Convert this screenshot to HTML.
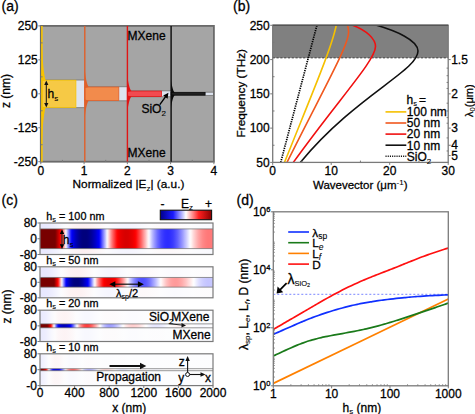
<!DOCTYPE html><html><head><meta charset="utf-8"><style>html,body{margin:0;padding:0;background:#fff;overflow:hidden}svg{display:block}text{font-family:"Liberation Sans",sans-serif;fill:#000;stroke:#000;stroke-width:0.28px}tspan[font-size]{stroke-width:0.1px}</style></head><body>
<svg width="475" height="414" viewBox="0 0 475 414">
<defs>
<linearGradient id="cbar" x1="0" x2="1" y1="0" y2="0"><stop offset="0" stop-color="#00008a"/><stop offset="0.25" stop-color="#1a1aff"/><stop offset="0.5" stop-color="#ffffff"/><stop offset="0.75" stop-color="#ff2020"/><stop offset="1" stop-color="#8a0000"/></linearGradient>
</defs>
<text x="1.50" y="10.60" font-size="14.00" text-anchor="start" >(a)</text>
<rect x="40.8" y="25.9" width="173.10000000000002" height="135.79999999999998" fill="#a5a5a5"/>
<rect x="41.90" y="80.22" width="42.90" height="27.16" fill="#dde3ef"/>
<line x1="41.90" y1="79.92" x2="84.80" y2="79.92" stroke="#858585" stroke-width="1"/>
<line x1="41.90" y1="107.68" x2="84.80" y2="107.68" stroke="#858585" stroke-width="1"/>
<rect x="41.90" y="80.22" width="34.00" height="27.16" fill="#f6c945" stroke="#f7c300" stroke-width="0.8"/>
<path d="M41.90,44.22 C42.47,60.42 43.99,75.90 45.70,80.22 L41.90,81.22 Z" fill="#f7c300"/>
<path d="M41.90,143.38 C42.47,127.18 43.99,111.70 45.70,107.38 L41.90,106.38 Z" fill="#f7c300"/>
<rect x="84.80" y="87.01" width="42.60" height="13.58" fill="#dde3ef"/>
<line x1="84.80" y1="86.71" x2="127.40" y2="86.71" stroke="#858585" stroke-width="1"/>
<line x1="84.80" y1="100.89" x2="127.40" y2="100.89" stroke="#858585" stroke-width="1"/>
<rect x="84.80" y="87.01" width="34.00" height="13.58" fill="#f28b4c" stroke="#e0602a" stroke-width="0.8"/>
<path d="M84.80,69.01 C85.40,77.11 87.00,84.85 88.80,87.01 L84.80,88.01 Z" fill="#e0602a"/>
<path d="M84.80,118.59 C85.40,110.49 87.00,102.75 88.80,100.59 L84.80,99.59 Z" fill="#e0602a"/>
<rect x="127.40" y="91.08" width="43.70" height="5.43" fill="#dde3ef"/>
<line x1="127.40" y1="90.78" x2="171.10" y2="90.78" stroke="#858585" stroke-width="1"/>
<line x1="127.40" y1="96.82" x2="171.10" y2="96.82" stroke="#858585" stroke-width="1"/>
<rect x="127.40" y="91.08" width="34.00" height="5.43" fill="#f24a50" stroke="#e01515" stroke-width="0.8"/>
<path d="M127.40,75.08 C128.00,82.28 129.60,89.16 131.40,91.08 L127.40,92.08 Z" fill="#e01515"/>
<path d="M127.40,112.52 C128.00,105.32 129.60,98.44 131.40,96.52 L127.40,95.52 Z" fill="#e01515"/>
<rect x="171.10" y="92.44" width="42.80" height="2.72" fill="#dde3ef"/>
<line x1="171.10" y1="92.14" x2="213.90" y2="92.14" stroke="#858585" stroke-width="1"/>
<line x1="171.10" y1="95.46" x2="213.90" y2="95.46" stroke="#858585" stroke-width="1"/>
<rect x="171.10" y="92.44" width="34.00" height="2.72" fill="#202020" stroke="#0a0a0a" stroke-width="0.8"/>
<path d="M171.10,79.44 C171.64,85.29 173.08,90.88 174.70,92.44 L171.10,93.44 Z" fill="#0a0a0a"/>
<path d="M171.10,108.16 C171.64,102.31 173.08,96.72 174.70,95.16 L171.10,94.16 Z" fill="#0a0a0a"/>
<rect x="40.8" y="25.9" width="173.10000000000002" height="135.79999999999998" fill="none" stroke="#6a6a6a" stroke-width="1.8"/>
<line x1="41.90" y1="25.90" x2="41.90" y2="161.70" stroke="#f7c300" stroke-width="1.6"/>
<line x1="84.80" y1="25.90" x2="84.80" y2="161.70" stroke="#e0602a" stroke-width="1.4"/>
<line x1="127.40" y1="25.90" x2="127.40" y2="161.70" stroke="#e01515" stroke-width="1.4"/>
<line x1="171.10" y1="25.90" x2="171.10" y2="161.70" stroke="#0a0a0a" stroke-width="1.4"/>
<line x1="38.30" y1="161.70" x2="40.80" y2="161.70" stroke="#7a7a7a" stroke-width="1"/>
<text x="37.80" y="165.90" font-size="12.00" text-anchor="end" >-250</text>
<line x1="38.30" y1="127.75" x2="40.80" y2="127.75" stroke="#7a7a7a" stroke-width="1"/>
<text x="37.80" y="131.95" font-size="12.00" text-anchor="end" >-125</text>
<line x1="38.30" y1="93.80" x2="40.80" y2="93.80" stroke="#7a7a7a" stroke-width="1"/>
<text x="37.80" y="98.00" font-size="12.00" text-anchor="end" >0</text>
<line x1="38.30" y1="59.85" x2="40.80" y2="59.85" stroke="#7a7a7a" stroke-width="1"/>
<text x="37.80" y="64.05" font-size="12.00" text-anchor="end" >125</text>
<line x1="38.30" y1="25.90" x2="40.80" y2="25.90" stroke="#7a7a7a" stroke-width="1"/>
<text x="37.80" y="30.10" font-size="12.00" text-anchor="end" >250</text>
<line x1="40.80" y1="144.72" x2="42.60" y2="144.72" stroke="#7a7a7a" stroke-width="1"/>
<line x1="40.80" y1="110.77" x2="42.60" y2="110.77" stroke="#7a7a7a" stroke-width="1"/>
<line x1="40.80" y1="76.83" x2="42.60" y2="76.83" stroke="#7a7a7a" stroke-width="1"/>
<line x1="40.80" y1="42.88" x2="42.60" y2="42.88" stroke="#7a7a7a" stroke-width="1"/>
<line x1="40.80" y1="161.70" x2="40.80" y2="164.20" stroke="#7a7a7a" stroke-width="1"/>
<text x="40.80" y="174.50" font-size="12.00" text-anchor="middle" >0</text>
<line x1="84.08" y1="161.70" x2="84.08" y2="164.20" stroke="#7a7a7a" stroke-width="1"/>
<text x="84.08" y="174.50" font-size="12.00" text-anchor="middle" >1</text>
<line x1="127.35" y1="161.70" x2="127.35" y2="164.20" stroke="#7a7a7a" stroke-width="1"/>
<text x="127.35" y="174.50" font-size="12.00" text-anchor="middle" >2</text>
<line x1="170.62" y1="161.70" x2="170.62" y2="164.20" stroke="#7a7a7a" stroke-width="1"/>
<text x="170.62" y="174.50" font-size="12.00" text-anchor="middle" >3</text>
<line x1="213.90" y1="161.70" x2="213.90" y2="164.20" stroke="#7a7a7a" stroke-width="1"/>
<text x="213.90" y="174.50" font-size="12.00" text-anchor="middle" >4</text>
<line x1="62.44" y1="161.70" x2="62.44" y2="159.90" stroke="#7a7a7a" stroke-width="1"/>
<line x1="105.71" y1="161.70" x2="105.71" y2="159.90" stroke="#7a7a7a" stroke-width="1"/>
<line x1="148.99" y1="161.70" x2="148.99" y2="159.90" stroke="#7a7a7a" stroke-width="1"/>
<line x1="192.26" y1="161.70" x2="192.26" y2="159.90" stroke="#7a7a7a" stroke-width="1"/>
<text x="72.60" y="188.00" font-size="11.80" text-anchor="start" >Normalized |E<tspan font-size="8" dy="2.5">z</tspan><tspan dy="-2.5">| (a.u.)</tspan></text>
<text x="0" y="0" font-size="12" text-anchor="middle" transform="translate(10.4,91) rotate(-90)">z (nm)</text>
<text x="127.60" y="40.20" font-size="12.00" text-anchor="start" >MXene</text>
<text x="127.60" y="157.10" font-size="12.00" text-anchor="start" >MXene</text>
<line x1="46.3" y1="82.5" x2="46.3" y2="105.5" stroke="#111" stroke-width="1"/>
<path d="M46.3,80.5 L44.2,85 L48.4,85 Z" fill="#111"/><path d="M46.3,107.5 L44.2,103 L48.4,103 Z" fill="#111"/>
<text x="47.60" y="98.20" font-size="12.00" text-anchor="start" >h<tspan font-size="8" dy="2.5">s</tspan></text>
<text x="141.40" y="113.30" font-size="12.00" text-anchor="start" >SiO<tspan font-size="8" dy="3">2</tspan></text>
<line x1="159.8" y1="104.6" x2="165.8" y2="96.4" stroke="#000" stroke-width="1.4"/>
<path d="M168.4,92.8 L163.2,95.6 L167.6,98.8 Z" fill="#000"/>
<text x="233.00" y="10.60" font-size="14.00" text-anchor="start" >(b)</text>
<rect x="272.70" y="25.30" width="175.50" height="32.56" fill="#808080"/>
<line x1="272.70" y1="57.86" x2="448.20" y2="57.86" stroke="#333" stroke-width="0.9" stroke-dasharray="2.2,1.6"/>
<clipPath id="cpb"><rect x="272.70" y="25.30" width="175.50" height="137.10"/></clipPath>
<line x1="280.7" y1="162.4" x2="316.9" y2="25.3" stroke="#000" stroke-width="1.7" stroke-dasharray="1.3,1.0" clip-path="url(#cpb)"/>
<path d="M284.5,162.4 C311.28,95.35 331.76,47.9 336.3,25" fill="none" stroke="#f5c000" stroke-width="1.6" clip-path="url(#cpb)"/>
<path d="M287,162.4 C325.73,84.84 348.6,45.54 348.6,32 C348.6,29.5 348,27 347.6,25" fill="none" stroke="#f0581e" stroke-width="1.6" clip-path="url(#cpb)"/>
<path d="M293.3,162.4 C339.28,98.44 375.5,60.33 375.5,46.5 C375.5,39 367,30.5 352,25" fill="none" stroke="#f01010" stroke-width="1.6" clip-path="url(#cpb)"/>
<path d="M300.3,162.4 C355.87,95.35 418,70.85 418,51 C418,40 395,30.5 375.8,25" fill="none" stroke="#111111" stroke-width="1.6" clip-path="url(#cpb)"/>
<rect x="272.70" y="25.30" width="175.50" height="137.10" fill="none" stroke="#7a7a7a" stroke-width="1.3"/>
<line x1="272.70" y1="25.30" x2="448.20" y2="25.30" stroke="#555" stroke-width="1.4"/>
<line x1="270.20" y1="162.40" x2="272.70" y2="162.40" stroke="#7a7a7a" stroke-width="1"/>
<text x="269.70" y="166.60" font-size="12.00" text-anchor="end" >50</text>
<line x1="270.20" y1="128.12" x2="272.70" y2="128.12" stroke="#7a7a7a" stroke-width="1"/>
<text x="269.70" y="132.32" font-size="12.00" text-anchor="end" >100</text>
<line x1="270.20" y1="93.85" x2="272.70" y2="93.85" stroke="#7a7a7a" stroke-width="1"/>
<text x="269.70" y="98.05" font-size="12.00" text-anchor="end" >150</text>
<line x1="270.20" y1="59.58" x2="272.70" y2="59.58" stroke="#7a7a7a" stroke-width="1"/>
<text x="269.70" y="63.78" font-size="12.00" text-anchor="end" >200</text>
<line x1="270.20" y1="25.30" x2="272.70" y2="25.30" stroke="#7a7a7a" stroke-width="1"/>
<text x="269.70" y="29.50" font-size="12.00" text-anchor="end" >250</text>
<line x1="272.70" y1="145.26" x2="274.50" y2="145.26" stroke="#7a7a7a" stroke-width="1"/>
<line x1="272.70" y1="110.99" x2="274.50" y2="110.99" stroke="#7a7a7a" stroke-width="1"/>
<line x1="272.70" y1="76.71" x2="274.50" y2="76.71" stroke="#7a7a7a" stroke-width="1"/>
<line x1="272.70" y1="42.44" x2="274.50" y2="42.44" stroke="#7a7a7a" stroke-width="1"/>
<line x1="272.70" y1="162.40" x2="272.70" y2="164.90" stroke="#7a7a7a" stroke-width="1"/>
<text x="272.70" y="174.50" font-size="12.00" text-anchor="middle" >0</text>
<line x1="331.20" y1="162.40" x2="331.20" y2="164.90" stroke="#7a7a7a" stroke-width="1"/>
<text x="331.20" y="174.50" font-size="12.00" text-anchor="middle" >10</text>
<line x1="389.70" y1="162.40" x2="389.70" y2="164.90" stroke="#7a7a7a" stroke-width="1"/>
<text x="389.70" y="174.50" font-size="12.00" text-anchor="middle" >20</text>
<line x1="448.20" y1="162.40" x2="448.20" y2="164.90" stroke="#7a7a7a" stroke-width="1"/>
<text x="448.20" y="174.50" font-size="12.00" text-anchor="middle" >30</text>
<line x1="301.95" y1="162.40" x2="301.95" y2="160.60" stroke="#7a7a7a" stroke-width="1"/>
<line x1="360.45" y1="162.40" x2="360.45" y2="160.60" stroke="#7a7a7a" stroke-width="1"/>
<line x1="418.95" y1="162.40" x2="418.95" y2="160.60" stroke="#7a7a7a" stroke-width="1"/>
<line x1="448.20" y1="59.58" x2="450.70" y2="59.58" stroke="#7a7a7a" stroke-width="1"/>
<text x="451.20" y="63.78" font-size="12.00" text-anchor="start" >1.5</text>
<line x1="448.20" y1="93.85" x2="450.70" y2="93.85" stroke="#7a7a7a" stroke-width="1"/>
<text x="451.20" y="98.05" font-size="12.00" text-anchor="start" >2</text>
<line x1="448.20" y1="128.12" x2="450.70" y2="128.12" stroke="#7a7a7a" stroke-width="1"/>
<text x="451.20" y="132.32" font-size="12.00" text-anchor="start" >3</text>
<line x1="448.20" y1="145.26" x2="450.70" y2="145.26" stroke="#7a7a7a" stroke-width="1"/>
<text x="451.20" y="149.46" font-size="12.00" text-anchor="start" >4</text>
<line x1="448.20" y1="155.55" x2="450.70" y2="155.55" stroke="#7a7a7a" stroke-width="1"/>
<text x="451.20" y="159.75" font-size="12.00" text-anchor="start" >5</text>
<line x1="446.60" y1="68.14" x2="448.20" y2="68.14" stroke="#7a7a7a" stroke-width="1"/>
<line x1="446.60" y1="75.70" x2="448.20" y2="75.70" stroke="#7a7a7a" stroke-width="1"/>
<line x1="446.60" y1="82.43" x2="448.20" y2="82.43" stroke="#7a7a7a" stroke-width="1"/>
<line x1="446.60" y1="88.44" x2="448.20" y2="88.44" stroke="#7a7a7a" stroke-width="1"/>
<line x1="446.60" y1="103.20" x2="448.20" y2="103.20" stroke="#7a7a7a" stroke-width="1"/>
<line x1="446.60" y1="110.99" x2="448.20" y2="110.99" stroke="#7a7a7a" stroke-width="1"/>
<line x1="446.60" y1="117.58" x2="448.20" y2="117.58" stroke="#7a7a7a" stroke-width="1"/>
<line x1="446.60" y1="123.23" x2="448.20" y2="123.23" stroke="#7a7a7a" stroke-width="1"/>
<line x1="446.60" y1="137.92" x2="448.20" y2="137.92" stroke="#7a7a7a" stroke-width="1"/>
<line x1="446.60" y1="150.97" x2="448.20" y2="150.97" stroke="#7a7a7a" stroke-width="1"/>
<text x="0" y="0" font-size="11.8" text-anchor="middle" transform="translate(245.2,93.2) rotate(-90)">Frequency (THz)</text>
<text x="313.00" y="189.00" font-size="11.50" text-anchor="start" >Wavevector (μm<tspan font-size="8" dy="-4">-1</tspan><tspan dy="4">)</tspan></text>
<text x="0" y="0" font-size="11" text-anchor="middle" transform="translate(472.5,100.7) rotate(-90)">λ<tspan font-size="7.5" dy="2.5">0</tspan><tspan dy="-2.5">(μm)</tspan></text>
<text x="406.50" y="103.60" font-size="12.00" text-anchor="start" >h<tspan font-size="7.5" dy="2.5">s</tspan><tspan dy="-2.5" dx="-1.2"> =</tspan></text>
<line x1="385.5" y1="111.90" x2="406.3" y2="111.90" stroke="#f5c000" stroke-width="1.6"/>
<text x="406.80" y="116.20" font-size="12.00" text-anchor="start" >100 nm</text>
<line x1="385.5" y1="123.00" x2="406.3" y2="123.00" stroke="#f0581e" stroke-width="1.6"/>
<text x="406.80" y="127.30" font-size="12.00" text-anchor="start" >50 nm</text>
<line x1="385.5" y1="134.10" x2="406.3" y2="134.10" stroke="#f01010" stroke-width="1.6"/>
<text x="406.80" y="138.40" font-size="12.00" text-anchor="start" >20 nm</text>
<line x1="385.5" y1="145.20" x2="406.3" y2="145.20" stroke="#111111" stroke-width="1.6"/>
<text x="406.80" y="149.50" font-size="12.00" text-anchor="start" >10 nm</text>
<line x1="385.5" y1="156.30" x2="406.3" y2="156.30" stroke="#111" stroke-width="1.6" stroke-dasharray="1.1,1.1"/>
<text x="406.80" y="160.60" font-size="12.00" text-anchor="start" >SiO<tspan font-size="8" dy="3">2</tspan></text>
<text x="1.50" y="205.30" font-size="14.00" text-anchor="start" >(c)</text>
<linearGradient id="g0" gradientUnits="userSpaceOnUse" x1="40" x2="213" y1="0" y2="0"><stop offset="0.000" stop-color="#780000"/><stop offset="0.006" stop-color="#780000"/><stop offset="0.012" stop-color="#780000"/><stop offset="0.017" stop-color="#780000"/><stop offset="0.023" stop-color="#780000"/><stop offset="0.029" stop-color="#780000"/><stop offset="0.035" stop-color="#780000"/><stop offset="0.040" stop-color="#780000"/><stop offset="0.046" stop-color="#780000"/><stop offset="0.052" stop-color="#780000"/><stop offset="0.058" stop-color="#780000"/><stop offset="0.064" stop-color="#780000"/><stop offset="0.069" stop-color="#780000"/><stop offset="0.075" stop-color="#780000"/><stop offset="0.081" stop-color="#780000"/><stop offset="0.087" stop-color="#780000"/><stop offset="0.092" stop-color="#890000"/><stop offset="0.098" stop-color="#a10000"/><stop offset="0.104" stop-color="#ba0000"/><stop offset="0.110" stop-color="#d30000"/><stop offset="0.116" stop-color="#ed0000"/><stop offset="0.121" stop-color="#ff1010"/><stop offset="0.127" stop-color="#ff4343"/><stop offset="0.133" stop-color="#ff7575"/><stop offset="0.139" stop-color="#ffa7a7"/><stop offset="0.145" stop-color="#ffd8d8"/><stop offset="0.150" stop-color="#f5f5ff"/><stop offset="0.156" stop-color="#c6c6ff"/><stop offset="0.162" stop-color="#9898ff"/><stop offset="0.168" stop-color="#6b6bff"/><stop offset="0.173" stop-color="#4040ff"/><stop offset="0.179" stop-color="#1818ff"/><stop offset="0.185" stop-color="#0000f7"/><stop offset="0.191" stop-color="#0000e5"/><stop offset="0.197" stop-color="#0000d4"/><stop offset="0.202" stop-color="#0000c4"/><stop offset="0.208" stop-color="#0000b6"/><stop offset="0.214" stop-color="#0000a9"/><stop offset="0.220" stop-color="#00009e"/><stop offset="0.225" stop-color="#000094"/><stop offset="0.231" stop-color="#00008c"/><stop offset="0.237" stop-color="#000085"/><stop offset="0.243" stop-color="#000080"/><stop offset="0.249" stop-color="#00007d"/><stop offset="0.254" stop-color="#00007d"/><stop offset="0.260" stop-color="#00007d"/><stop offset="0.266" stop-color="#00007d"/><stop offset="0.272" stop-color="#00007e"/><stop offset="0.277" stop-color="#000083"/><stop offset="0.283" stop-color="#000088"/><stop offset="0.289" stop-color="#00008f"/><stop offset="0.295" stop-color="#000097"/><stop offset="0.301" stop-color="#0000a0"/><stop offset="0.306" stop-color="#0000ab"/><stop offset="0.312" stop-color="#0000b6"/><stop offset="0.318" stop-color="#0000c2"/><stop offset="0.324" stop-color="#0000d0"/><stop offset="0.329" stop-color="#0000de"/><stop offset="0.335" stop-color="#0000ec"/><stop offset="0.341" stop-color="#0000fb"/><stop offset="0.347" stop-color="#1717ff"/><stop offset="0.353" stop-color="#3737ff"/><stop offset="0.358" stop-color="#5656ff"/><stop offset="0.364" stop-color="#7676ff"/><stop offset="0.370" stop-color="#9696ff"/><stop offset="0.376" stop-color="#b7b7ff"/><stop offset="0.382" stop-color="#d6d6ff"/><stop offset="0.387" stop-color="#f6f6ff"/><stop offset="0.393" stop-color="#ffeaea"/><stop offset="0.399" stop-color="#ffcccc"/><stop offset="0.405" stop-color="#ffafaf"/><stop offset="0.410" stop-color="#ff9393"/><stop offset="0.416" stop-color="#ff7878"/><stop offset="0.422" stop-color="#ff5e5e"/><stop offset="0.428" stop-color="#ff4747"/><stop offset="0.434" stop-color="#ff3030"/><stop offset="0.439" stop-color="#ff1c1c"/><stop offset="0.445" stop-color="#ff0909"/><stop offset="0.451" stop-color="#fb0000"/><stop offset="0.457" stop-color="#f20000"/><stop offset="0.462" stop-color="#eb0000"/><stop offset="0.468" stop-color="#e50000"/><stop offset="0.474" stop-color="#e10000"/><stop offset="0.480" stop-color="#dd0000"/><stop offset="0.486" stop-color="#da0000"/><stop offset="0.491" stop-color="#d80000"/><stop offset="0.497" stop-color="#d70000"/><stop offset="0.503" stop-color="#d80000"/><stop offset="0.509" stop-color="#d90000"/><stop offset="0.514" stop-color="#db0000"/><stop offset="0.520" stop-color="#df0000"/><stop offset="0.526" stop-color="#e30000"/><stop offset="0.532" stop-color="#e80000"/><stop offset="0.538" stop-color="#ed0000"/><stop offset="0.543" stop-color="#f40000"/><stop offset="0.549" stop-color="#fb0000"/><stop offset="0.555" stop-color="#ff0808"/><stop offset="0.561" stop-color="#ff1818"/><stop offset="0.566" stop-color="#ff2929"/><stop offset="0.572" stop-color="#ff3b3b"/><stop offset="0.578" stop-color="#ff4e4e"/><stop offset="0.584" stop-color="#ff6161"/><stop offset="0.590" stop-color="#ff7575"/><stop offset="0.595" stop-color="#ff8989"/><stop offset="0.601" stop-color="#ff9d9d"/><stop offset="0.607" stop-color="#ffb2b2"/><stop offset="0.613" stop-color="#ffc6c6"/><stop offset="0.618" stop-color="#ffdbdb"/><stop offset="0.624" stop-color="#ffefef"/><stop offset="0.630" stop-color="#fbfbff"/><stop offset="0.636" stop-color="#e8e8ff"/><stop offset="0.642" stop-color="#d5d5ff"/><stop offset="0.647" stop-color="#c2c2ff"/><stop offset="0.653" stop-color="#b1b1ff"/><stop offset="0.659" stop-color="#a0a0ff"/><stop offset="0.665" stop-color="#9090ff"/><stop offset="0.671" stop-color="#8282ff"/><stop offset="0.676" stop-color="#7474ff"/><stop offset="0.682" stop-color="#6767ff"/><stop offset="0.688" stop-color="#5c5cff"/><stop offset="0.694" stop-color="#5151ff"/><stop offset="0.699" stop-color="#4848ff"/><stop offset="0.705" stop-color="#4040ff"/><stop offset="0.711" stop-color="#3a3aff"/><stop offset="0.717" stop-color="#3434ff"/><stop offset="0.723" stop-color="#3030ff"/><stop offset="0.728" stop-color="#2e2eff"/><stop offset="0.734" stop-color="#2c2cff"/><stop offset="0.740" stop-color="#2c2cff"/><stop offset="0.746" stop-color="#2d2dff"/><stop offset="0.751" stop-color="#2f2fff"/><stop offset="0.757" stop-color="#3333ff"/><stop offset="0.763" stop-color="#3737ff"/><stop offset="0.769" stop-color="#3c3cff"/><stop offset="0.775" stop-color="#4343ff"/><stop offset="0.780" stop-color="#4a4aff"/><stop offset="0.786" stop-color="#5353ff"/><stop offset="0.792" stop-color="#5c5cff"/><stop offset="0.798" stop-color="#6666ff"/><stop offset="0.803" stop-color="#7171ff"/><stop offset="0.809" stop-color="#7c7cff"/><stop offset="0.815" stop-color="#8787ff"/><stop offset="0.821" stop-color="#9494ff"/><stop offset="0.827" stop-color="#a0a0ff"/><stop offset="0.832" stop-color="#adadff"/><stop offset="0.838" stop-color="#babaff"/><stop offset="0.844" stop-color="#c7c7ff"/><stop offset="0.850" stop-color="#d4d4ff"/><stop offset="0.855" stop-color="#e1e1ff"/><stop offset="0.861" stop-color="#eeeeff"/><stop offset="0.867" stop-color="#fbfbff"/><stop offset="0.873" stop-color="#fff6f6"/><stop offset="0.879" stop-color="#ffeaea"/><stop offset="0.884" stop-color="#ffdede"/><stop offset="0.890" stop-color="#ffd3d3"/><stop offset="0.896" stop-color="#ffc8c8"/><stop offset="0.902" stop-color="#ffbdbd"/><stop offset="0.908" stop-color="#ffb3b3"/><stop offset="0.913" stop-color="#ffaaaa"/><stop offset="0.919" stop-color="#ffa2a2"/><stop offset="0.925" stop-color="#ff9a9a"/><stop offset="0.931" stop-color="#ff9393"/><stop offset="0.936" stop-color="#ff8d8d"/><stop offset="0.942" stop-color="#ff8787"/><stop offset="0.948" stop-color="#ff8383"/><stop offset="0.954" stop-color="#ff7f7f"/><stop offset="0.960" stop-color="#ff7c7c"/><stop offset="0.965" stop-color="#ff7a7a"/><stop offset="0.971" stop-color="#ff7878"/><stop offset="0.977" stop-color="#ff7878"/><stop offset="0.983" stop-color="#ff7878"/><stop offset="0.988" stop-color="#ff7979"/><stop offset="0.994" stop-color="#ff7b7b"/><stop offset="1.000" stop-color="#ff7d7d"/></linearGradient>
<linearGradient id="f0" gradientUnits="userSpaceOnUse" x1="40" x2="213" y1="0" y2="0"><stop offset="0.000" stop-color="#e4e4ff"/><stop offset="0.017" stop-color="#e3e3ff"/><stop offset="0.035" stop-color="#e3e3ff"/><stop offset="0.052" stop-color="#e5e5ff"/><stop offset="0.069" stop-color="#e9e9ff"/><stop offset="0.087" stop-color="#ededff"/><stop offset="0.104" stop-color="#f1f1ff"/><stop offset="0.121" stop-color="#f7f7ff"/><stop offset="0.139" stop-color="#fcfcff"/><stop offset="0.156" stop-color="#fffdfd"/><stop offset="0.173" stop-color="#fff8f8"/><stop offset="0.191" stop-color="#fff4f4"/><stop offset="0.208" stop-color="#fff1f1"/><stop offset="0.225" stop-color="#ffefef"/><stop offset="0.243" stop-color="#ffeded"/><stop offset="0.260" stop-color="#ffeded"/><stop offset="0.277" stop-color="#ffeeee"/><stop offset="0.295" stop-color="#ffefef"/><stop offset="0.312" stop-color="#fff1f1"/><stop offset="0.329" stop-color="#fff4f4"/><stop offset="0.347" stop-color="#fff7f7"/><stop offset="0.364" stop-color="#fffafa"/><stop offset="0.382" stop-color="#fffefe"/><stop offset="0.399" stop-color="#fdfdff"/><stop offset="0.416" stop-color="#fafaff"/><stop offset="0.434" stop-color="#f8f8ff"/><stop offset="0.451" stop-color="#f6f6ff"/><stop offset="0.468" stop-color="#f4f4ff"/><stop offset="0.486" stop-color="#f4f4ff"/><stop offset="0.503" stop-color="#f3f3ff"/><stop offset="0.520" stop-color="#f4f4ff"/><stop offset="0.538" stop-color="#f5f5ff"/><stop offset="0.555" stop-color="#f6f6ff"/><stop offset="0.572" stop-color="#f8f8ff"/><stop offset="0.590" stop-color="#fafaff"/><stop offset="0.607" stop-color="#fcfcff"/><stop offset="0.624" stop-color="#fefeff"/><stop offset="0.642" stop-color="#fffefe"/><stop offset="0.659" stop-color="#fffcfc"/><stop offset="0.676" stop-color="#fffafa"/><stop offset="0.694" stop-color="#fff9f9"/><stop offset="0.711" stop-color="#fff8f8"/><stop offset="0.728" stop-color="#fff8f8"/><stop offset="0.746" stop-color="#fff8f8"/><stop offset="0.763" stop-color="#fff8f8"/><stop offset="0.780" stop-color="#fff9f9"/><stop offset="0.798" stop-color="#fffafa"/><stop offset="0.815" stop-color="#fffbfb"/><stop offset="0.832" stop-color="#fffcfc"/><stop offset="0.850" stop-color="#fffefe"/><stop offset="0.867" stop-color="#ffffff"/><stop offset="0.884" stop-color="#fefeff"/><stop offset="0.902" stop-color="#fdfdff"/><stop offset="0.919" stop-color="#fcfcff"/><stop offset="0.936" stop-color="#fbfbff"/><stop offset="0.954" stop-color="#fbfbff"/><stop offset="0.971" stop-color="#fafaff"/><stop offset="0.988" stop-color="#fafaff"/></linearGradient>
<rect x="40.00" y="223.00" width="173.00" height="31.50" fill="#f7f8fc"/>
<rect x="40.00" y="224.00" width="173.00" height="29.50" fill="url(#f0)" opacity="0.7"/>
<rect x="40.00" y="228.91" width="173.00" height="19.69" fill="url(#g0)"/>
<line x1="40.00" y1="228.91" x2="213.00" y2="228.91" stroke="#6a6a6a" stroke-width="0.7"/>
<line x1="40.00" y1="248.59" x2="213.00" y2="248.59" stroke="#6a6a6a" stroke-width="0.7"/>
<rect x="40.00" y="223.00" width="173.00" height="31.50" fill="none" stroke="#7a7a7a" stroke-width="1.2"/>
<line x1="37.50" y1="223.00" x2="40.00" y2="223.00" stroke="#7a7a7a" stroke-width="1"/>
<text x="37.00" y="227.20" font-size="12.00" text-anchor="end" >80</text>
<line x1="37.50" y1="238.75" x2="40.00" y2="238.75" stroke="#7a7a7a" stroke-width="1"/>
<text x="37.00" y="242.95" font-size="12.00" text-anchor="end" >0</text>
<line x1="37.50" y1="254.50" x2="40.00" y2="254.50" stroke="#7a7a7a" stroke-width="1"/>
<text x="37.00" y="258.70" font-size="12.00" text-anchor="end" >-80</text>
<text x="46.30" y="219.70" font-size="10.80" text-anchor="start" >h<tspan font-size="7.5" dy="2.2">s</tspan><tspan dy="-2.2"> = 100 nm</tspan></text>
<linearGradient id="g1" gradientUnits="userSpaceOnUse" x1="40" x2="213" y1="0" y2="0"><stop offset="0.000" stop-color="#780000"/><stop offset="0.006" stop-color="#780000"/><stop offset="0.012" stop-color="#780000"/><stop offset="0.017" stop-color="#780000"/><stop offset="0.023" stop-color="#780000"/><stop offset="0.029" stop-color="#780000"/><stop offset="0.035" stop-color="#780000"/><stop offset="0.040" stop-color="#780000"/><stop offset="0.046" stop-color="#780000"/><stop offset="0.052" stop-color="#780000"/><stop offset="0.058" stop-color="#780000"/><stop offset="0.064" stop-color="#780000"/><stop offset="0.069" stop-color="#780000"/><stop offset="0.075" stop-color="#780000"/><stop offset="0.081" stop-color="#780000"/><stop offset="0.087" stop-color="#9a0000"/><stop offset="0.092" stop-color="#bd0000"/><stop offset="0.098" stop-color="#e00000"/><stop offset="0.104" stop-color="#ff0909"/><stop offset="0.110" stop-color="#ff4d4d"/><stop offset="0.116" stop-color="#ff9090"/><stop offset="0.121" stop-color="#ffd2d2"/><stop offset="0.127" stop-color="#ececff"/><stop offset="0.133" stop-color="#aeaeff"/><stop offset="0.139" stop-color="#7373ff"/><stop offset="0.145" stop-color="#3b3bff"/><stop offset="0.150" stop-color="#0707ff"/><stop offset="0.156" stop-color="#0000ea"/><stop offset="0.162" stop-color="#0000d3"/><stop offset="0.168" stop-color="#0000bf"/><stop offset="0.173" stop-color="#0000ad"/><stop offset="0.179" stop-color="#00009e"/><stop offset="0.185" stop-color="#000092"/><stop offset="0.191" stop-color="#000087"/><stop offset="0.197" stop-color="#000080"/><stop offset="0.202" stop-color="#00007d"/><stop offset="0.208" stop-color="#00007d"/><stop offset="0.214" stop-color="#00007d"/><stop offset="0.220" stop-color="#00007d"/><stop offset="0.225" stop-color="#000081"/><stop offset="0.231" stop-color="#000088"/><stop offset="0.237" stop-color="#000091"/><stop offset="0.243" stop-color="#00009c"/><stop offset="0.249" stop-color="#0000a9"/><stop offset="0.254" stop-color="#0000b8"/><stop offset="0.260" stop-color="#0000c7"/><stop offset="0.266" stop-color="#0000d8"/><stop offset="0.272" stop-color="#0000ea"/><stop offset="0.277" stop-color="#0000fd"/><stop offset="0.283" stop-color="#2222ff"/><stop offset="0.289" stop-color="#4949ff"/><stop offset="0.295" stop-color="#7070ff"/><stop offset="0.301" stop-color="#9898ff"/><stop offset="0.306" stop-color="#bfbfff"/><stop offset="0.312" stop-color="#e5e5ff"/><stop offset="0.318" stop-color="#fff4f4"/><stop offset="0.324" stop-color="#ffd0d0"/><stop offset="0.329" stop-color="#ffaeae"/><stop offset="0.335" stop-color="#ff8d8d"/><stop offset="0.341" stop-color="#ff6f6f"/><stop offset="0.347" stop-color="#ff5353"/><stop offset="0.353" stop-color="#ff3939"/><stop offset="0.358" stop-color="#ff2222"/><stop offset="0.364" stop-color="#ff0e0e"/><stop offset="0.370" stop-color="#fd0000"/><stop offset="0.376" stop-color="#f60000"/><stop offset="0.382" stop-color="#f00000"/><stop offset="0.387" stop-color="#eb0000"/><stop offset="0.393" stop-color="#e80000"/><stop offset="0.399" stop-color="#e70000"/><stop offset="0.405" stop-color="#e70000"/><stop offset="0.410" stop-color="#e90000"/><stop offset="0.416" stop-color="#ec0000"/><stop offset="0.422" stop-color="#f00000"/><stop offset="0.428" stop-color="#f60000"/><stop offset="0.434" stop-color="#fc0000"/><stop offset="0.439" stop-color="#ff0909"/><stop offset="0.445" stop-color="#ff1a1a"/><stop offset="0.451" stop-color="#ff2c2c"/><stop offset="0.457" stop-color="#ff3f3f"/><stop offset="0.462" stop-color="#ff5454"/><stop offset="0.468" stop-color="#ff6969"/><stop offset="0.474" stop-color="#ff7f7f"/><stop offset="0.480" stop-color="#ff9696"/><stop offset="0.486" stop-color="#ffacac"/><stop offset="0.491" stop-color="#ffc3c3"/><stop offset="0.497" stop-color="#ffdada"/><stop offset="0.503" stop-color="#fff0f0"/><stop offset="0.509" stop-color="#f9f9ff"/><stop offset="0.514" stop-color="#e4e4ff"/><stop offset="0.520" stop-color="#d0d0ff"/><stop offset="0.526" stop-color="#bdbdff"/><stop offset="0.532" stop-color="#ababff"/><stop offset="0.538" stop-color="#9b9bff"/><stop offset="0.543" stop-color="#8c8cff"/><stop offset="0.549" stop-color="#7f7fff"/><stop offset="0.555" stop-color="#7373ff"/><stop offset="0.561" stop-color="#6969ff"/><stop offset="0.566" stop-color="#6161ff"/><stop offset="0.572" stop-color="#5a5aff"/><stop offset="0.578" stop-color="#5555ff"/><stop offset="0.584" stop-color="#5252ff"/><stop offset="0.590" stop-color="#5151ff"/><stop offset="0.595" stop-color="#5151ff"/><stop offset="0.601" stop-color="#5353ff"/><stop offset="0.607" stop-color="#5656ff"/><stop offset="0.613" stop-color="#5b5bff"/><stop offset="0.618" stop-color="#6161ff"/><stop offset="0.624" stop-color="#6868ff"/><stop offset="0.630" stop-color="#7171ff"/><stop offset="0.636" stop-color="#7a7aff"/><stop offset="0.642" stop-color="#8585ff"/><stop offset="0.647" stop-color="#9090ff"/><stop offset="0.653" stop-color="#9c9cff"/><stop offset="0.659" stop-color="#a8a8ff"/><stop offset="0.665" stop-color="#b5b5ff"/><stop offset="0.671" stop-color="#c2c2ff"/><stop offset="0.676" stop-color="#cfcfff"/><stop offset="0.682" stop-color="#dcdcff"/><stop offset="0.688" stop-color="#e9e9ff"/><stop offset="0.694" stop-color="#f6f6ff"/><stop offset="0.699" stop-color="#fffbfb"/><stop offset="0.705" stop-color="#ffefef"/><stop offset="0.711" stop-color="#ffe4e4"/><stop offset="0.717" stop-color="#ffd9d9"/><stop offset="0.723" stop-color="#ffcece"/><stop offset="0.728" stop-color="#ffc5c5"/><stop offset="0.734" stop-color="#ffbcbc"/><stop offset="0.740" stop-color="#ffb5b5"/><stop offset="0.746" stop-color="#ffaeae"/><stop offset="0.751" stop-color="#ffa8a8"/><stop offset="0.757" stop-color="#ffa3a3"/><stop offset="0.763" stop-color="#ff9f9f"/><stop offset="0.769" stop-color="#ff9d9d"/><stop offset="0.775" stop-color="#ff9b9b"/><stop offset="0.780" stop-color="#ff9a9a"/><stop offset="0.786" stop-color="#ff9a9a"/><stop offset="0.792" stop-color="#ff9b9b"/><stop offset="0.798" stop-color="#ff9d9d"/><stop offset="0.803" stop-color="#ffa0a0"/><stop offset="0.809" stop-color="#ffa3a3"/><stop offset="0.815" stop-color="#ffa7a7"/><stop offset="0.821" stop-color="#ffacac"/><stop offset="0.827" stop-color="#ffb2b2"/><stop offset="0.832" stop-color="#ffb8b8"/><stop offset="0.838" stop-color="#ffbebe"/><stop offset="0.844" stop-color="#ffc5c5"/><stop offset="0.850" stop-color="#ffcdcd"/><stop offset="0.855" stop-color="#ffd4d4"/><stop offset="0.861" stop-color="#ffdcdc"/><stop offset="0.867" stop-color="#ffe3e3"/><stop offset="0.873" stop-color="#ffebeb"/><stop offset="0.879" stop-color="#fff2f2"/><stop offset="0.884" stop-color="#fffafa"/><stop offset="0.890" stop-color="#fdfdff"/><stop offset="0.896" stop-color="#f6f6ff"/><stop offset="0.902" stop-color="#efefff"/><stop offset="0.908" stop-color="#e9e9ff"/><stop offset="0.913" stop-color="#e3e3ff"/><stop offset="0.919" stop-color="#ddddff"/><stop offset="0.925" stop-color="#d8d8ff"/><stop offset="0.931" stop-color="#d4d4ff"/><stop offset="0.936" stop-color="#d0d0ff"/><stop offset="0.942" stop-color="#cdcdff"/><stop offset="0.948" stop-color="#cacaff"/><stop offset="0.954" stop-color="#c8c8ff"/><stop offset="0.960" stop-color="#c6c6ff"/><stop offset="0.965" stop-color="#c5c5ff"/><stop offset="0.971" stop-color="#c4c4ff"/><stop offset="0.977" stop-color="#c4c4ff"/><stop offset="0.983" stop-color="#c5c5ff"/><stop offset="0.988" stop-color="#c6c6ff"/><stop offset="0.994" stop-color="#c8c8ff"/><stop offset="1.000" stop-color="#cacaff"/></linearGradient>
<linearGradient id="f1" gradientUnits="userSpaceOnUse" x1="40" x2="213" y1="0" y2="0"><stop offset="0.000" stop-color="#e1e1ff"/><stop offset="0.017" stop-color="#e0e0ff"/><stop offset="0.035" stop-color="#e1e1ff"/><stop offset="0.052" stop-color="#e4e4ff"/><stop offset="0.069" stop-color="#e9e9ff"/><stop offset="0.087" stop-color="#efefff"/><stop offset="0.104" stop-color="#f6f6ff"/><stop offset="0.121" stop-color="#fdfdff"/><stop offset="0.139" stop-color="#fffafa"/><stop offset="0.156" stop-color="#fff5f5"/><stop offset="0.173" stop-color="#fff0f0"/><stop offset="0.191" stop-color="#ffeeee"/><stop offset="0.208" stop-color="#ffeded"/><stop offset="0.225" stop-color="#ffeded"/><stop offset="0.243" stop-color="#ffefef"/><stop offset="0.260" stop-color="#fff2f2"/><stop offset="0.277" stop-color="#fff6f6"/><stop offset="0.295" stop-color="#fffafa"/><stop offset="0.312" stop-color="#fffefe"/><stop offset="0.329" stop-color="#fcfcff"/><stop offset="0.347" stop-color="#f9f9ff"/><stop offset="0.364" stop-color="#f7f7ff"/><stop offset="0.382" stop-color="#f5f5ff"/><stop offset="0.399" stop-color="#f4f4ff"/><stop offset="0.416" stop-color="#f5f5ff"/><stop offset="0.434" stop-color="#f6f6ff"/><stop offset="0.451" stop-color="#f8f8ff"/><stop offset="0.468" stop-color="#fafaff"/><stop offset="0.486" stop-color="#fcfcff"/><stop offset="0.503" stop-color="#fefeff"/><stop offset="0.520" stop-color="#fffdfd"/><stop offset="0.538" stop-color="#fffcfc"/><stop offset="0.555" stop-color="#fffafa"/><stop offset="0.572" stop-color="#fff9f9"/><stop offset="0.590" stop-color="#fff9f9"/><stop offset="0.607" stop-color="#fff9f9"/><stop offset="0.624" stop-color="#fffafa"/><stop offset="0.642" stop-color="#fffbfb"/><stop offset="0.659" stop-color="#fffcfc"/><stop offset="0.676" stop-color="#fffdfd"/><stop offset="0.694" stop-color="#ffffff"/><stop offset="0.711" stop-color="#fefeff"/><stop offset="0.728" stop-color="#fdfdff"/><stop offset="0.746" stop-color="#fcfcff"/><stop offset="0.763" stop-color="#fcfcff"/><stop offset="0.780" stop-color="#fbfbff"/><stop offset="0.798" stop-color="#fcfcff"/><stop offset="0.815" stop-color="#fcfcff"/><stop offset="0.832" stop-color="#fdfdff"/><stop offset="0.850" stop-color="#fdfdff"/><stop offset="0.867" stop-color="#fefeff"/><stop offset="0.884" stop-color="#ffffff"/><stop offset="0.902" stop-color="#fffefe"/><stop offset="0.919" stop-color="#fffefe"/><stop offset="0.936" stop-color="#fffdfd"/><stop offset="0.954" stop-color="#fffdfd"/><stop offset="0.971" stop-color="#fffdfd"/><stop offset="0.988" stop-color="#fffdfd"/></linearGradient>
<rect x="40.00" y="266.80" width="173.00" height="31.00" fill="#f7f8fc"/>
<rect x="40.00" y="267.80" width="173.00" height="29.00" fill="url(#f1)" opacity="0.7"/>
<rect x="40.00" y="277.46" width="173.00" height="9.69" fill="url(#g1)"/>
<line x1="40.00" y1="277.46" x2="213.00" y2="277.46" stroke="#6a6a6a" stroke-width="0.7"/>
<line x1="40.00" y1="287.14" x2="213.00" y2="287.14" stroke="#6a6a6a" stroke-width="0.7"/>
<rect x="40.00" y="266.80" width="173.00" height="31.00" fill="none" stroke="#7a7a7a" stroke-width="1.2"/>
<line x1="37.50" y1="266.80" x2="40.00" y2="266.80" stroke="#7a7a7a" stroke-width="1"/>
<text x="37.00" y="271.00" font-size="12.00" text-anchor="end" >80</text>
<line x1="37.50" y1="282.30" x2="40.00" y2="282.30" stroke="#7a7a7a" stroke-width="1"/>
<text x="37.00" y="286.50" font-size="12.00" text-anchor="end" >0</text>
<line x1="37.50" y1="297.80" x2="40.00" y2="297.80" stroke="#7a7a7a" stroke-width="1"/>
<text x="37.00" y="302.00" font-size="12.00" text-anchor="end" >-80</text>
<text x="46.30" y="263.50" font-size="10.80" text-anchor="start" >h<tspan font-size="7.5" dy="2.2">s</tspan><tspan dy="-2.2"> = 50 nm</tspan></text>
<linearGradient id="g2" gradientUnits="userSpaceOnUse" x1="40" x2="213" y1="0" y2="0"><stop offset="0.000" stop-color="#780000"/><stop offset="0.006" stop-color="#780000"/><stop offset="0.012" stop-color="#780000"/><stop offset="0.017" stop-color="#780000"/><stop offset="0.023" stop-color="#780000"/><stop offset="0.029" stop-color="#780000"/><stop offset="0.035" stop-color="#780000"/><stop offset="0.040" stop-color="#780000"/><stop offset="0.046" stop-color="#880000"/><stop offset="0.052" stop-color="#b00000"/><stop offset="0.058" stop-color="#da0000"/><stop offset="0.064" stop-color="#ff0c0c"/><stop offset="0.069" stop-color="#ff5d5d"/><stop offset="0.075" stop-color="#ffacac"/><stop offset="0.081" stop-color="#fff8f8"/><stop offset="0.087" stop-color="#bfbfff"/><stop offset="0.092" stop-color="#7c7cff"/><stop offset="0.098" stop-color="#4141ff"/><stop offset="0.104" stop-color="#0c0cff"/><stop offset="0.110" stop-color="#0000ee"/><stop offset="0.116" stop-color="#0000db"/><stop offset="0.121" stop-color="#0000cd"/><stop offset="0.127" stop-color="#0000c2"/><stop offset="0.133" stop-color="#0000bc"/><stop offset="0.139" stop-color="#0000ba"/><stop offset="0.145" stop-color="#0000bc"/><stop offset="0.150" stop-color="#0000c2"/><stop offset="0.156" stop-color="#0000cb"/><stop offset="0.162" stop-color="#0000d6"/><stop offset="0.168" stop-color="#0000e5"/><stop offset="0.173" stop-color="#0000f5"/><stop offset="0.179" stop-color="#1010ff"/><stop offset="0.185" stop-color="#3636ff"/><stop offset="0.191" stop-color="#5e5eff"/><stop offset="0.197" stop-color="#8686ff"/><stop offset="0.202" stop-color="#aeaeff"/><stop offset="0.208" stop-color="#d5d5ff"/><stop offset="0.214" stop-color="#fbfbff"/><stop offset="0.220" stop-color="#ffdfdf"/><stop offset="0.225" stop-color="#ffbebe"/><stop offset="0.231" stop-color="#ffa0a0"/><stop offset="0.237" stop-color="#ff8686"/><stop offset="0.243" stop-color="#ff6f6f"/><stop offset="0.249" stop-color="#ff5d5d"/><stop offset="0.254" stop-color="#ff4f4f"/><stop offset="0.260" stop-color="#ff4545"/><stop offset="0.266" stop-color="#ff3f3f"/><stop offset="0.272" stop-color="#ff3d3d"/><stop offset="0.277" stop-color="#ff3f3f"/><stop offset="0.283" stop-color="#ff4444"/><stop offset="0.289" stop-color="#ff4d4d"/><stop offset="0.295" stop-color="#ff5858"/><stop offset="0.301" stop-color="#ff6666"/><stop offset="0.306" stop-color="#ff7676"/><stop offset="0.312" stop-color="#ff8888"/><stop offset="0.318" stop-color="#ff9b9b"/><stop offset="0.324" stop-color="#ffafaf"/><stop offset="0.329" stop-color="#ffc3c3"/><stop offset="0.335" stop-color="#ffd7d7"/><stop offset="0.341" stop-color="#ffeaea"/><stop offset="0.347" stop-color="#fffdfd"/><stop offset="0.353" stop-color="#efefff"/><stop offset="0.358" stop-color="#dfdfff"/><stop offset="0.364" stop-color="#d0d0ff"/><stop offset="0.370" stop-color="#c3c3ff"/><stop offset="0.376" stop-color="#b7b7ff"/><stop offset="0.382" stop-color="#aeaeff"/><stop offset="0.387" stop-color="#a7a7ff"/><stop offset="0.393" stop-color="#a2a2ff"/><stop offset="0.399" stop-color="#9f9fff"/><stop offset="0.405" stop-color="#9e9eff"/><stop offset="0.410" stop-color="#9f9fff"/><stop offset="0.416" stop-color="#a2a2ff"/><stop offset="0.422" stop-color="#a6a6ff"/><stop offset="0.428" stop-color="#acacff"/><stop offset="0.434" stop-color="#b3b3ff"/><stop offset="0.439" stop-color="#bbbbff"/><stop offset="0.445" stop-color="#c4c4ff"/><stop offset="0.451" stop-color="#cdcdff"/><stop offset="0.457" stop-color="#d7d7ff"/><stop offset="0.462" stop-color="#e1e1ff"/><stop offset="0.468" stop-color="#ebebff"/><stop offset="0.474" stop-color="#f5f5ff"/><stop offset="0.480" stop-color="#fefeff"/><stop offset="0.486" stop-color="#fff7f7"/><stop offset="0.491" stop-color="#ffefef"/><stop offset="0.497" stop-color="#ffe7e7"/><stop offset="0.503" stop-color="#ffe1e1"/><stop offset="0.509" stop-color="#ffdbdb"/><stop offset="0.514" stop-color="#ffd7d7"/><stop offset="0.520" stop-color="#ffd3d3"/><stop offset="0.526" stop-color="#ffd1d1"/><stop offset="0.532" stop-color="#ffcfcf"/><stop offset="0.538" stop-color="#ffcfcf"/><stop offset="0.543" stop-color="#ffcfcf"/><stop offset="0.549" stop-color="#ffd1d1"/><stop offset="0.555" stop-color="#ffd3d3"/><stop offset="0.561" stop-color="#ffd6d6"/><stop offset="0.566" stop-color="#ffd9d9"/><stop offset="0.572" stop-color="#ffdddd"/><stop offset="0.578" stop-color="#ffe1e1"/><stop offset="0.584" stop-color="#ffe6e6"/><stop offset="0.590" stop-color="#ffebeb"/><stop offset="0.595" stop-color="#fff0f0"/><stop offset="0.601" stop-color="#fff5f5"/><stop offset="0.607" stop-color="#fffafa"/><stop offset="0.613" stop-color="#ffffff"/><stop offset="0.618" stop-color="#fbfbff"/><stop offset="0.624" stop-color="#f7f7ff"/><stop offset="0.630" stop-color="#f3f3ff"/><stop offset="0.636" stop-color="#f0f0ff"/><stop offset="0.642" stop-color="#ededff"/><stop offset="0.647" stop-color="#ebebff"/><stop offset="0.653" stop-color="#e9e9ff"/><stop offset="0.659" stop-color="#e8e8ff"/><stop offset="0.665" stop-color="#e7e7ff"/><stop offset="0.671" stop-color="#e7e7ff"/><stop offset="0.676" stop-color="#e7e7ff"/><stop offset="0.682" stop-color="#e8e8ff"/><stop offset="0.688" stop-color="#e9e9ff"/><stop offset="0.694" stop-color="#eaeaff"/><stop offset="0.699" stop-color="#ececff"/><stop offset="0.705" stop-color="#eeeeff"/><stop offset="0.711" stop-color="#f0f0ff"/><stop offset="0.717" stop-color="#f3f3ff"/><stop offset="0.723" stop-color="#f5f5ff"/><stop offset="0.728" stop-color="#f8f8ff"/><stop offset="0.734" stop-color="#fafaff"/><stop offset="0.740" stop-color="#fcfcff"/><stop offset="0.746" stop-color="#ffffff"/><stop offset="0.751" stop-color="#fffdfd"/><stop offset="0.757" stop-color="#fffbfb"/><stop offset="0.763" stop-color="#fff9f9"/><stop offset="0.769" stop-color="#fff8f8"/><stop offset="0.775" stop-color="#fff6f6"/><stop offset="0.780" stop-color="#fff5f5"/><stop offset="0.786" stop-color="#fff4f4"/><stop offset="0.792" stop-color="#fff4f4"/><stop offset="0.798" stop-color="#fff3f3"/><stop offset="0.803" stop-color="#fff3f3"/><stop offset="0.809" stop-color="#fff3f3"/><stop offset="0.815" stop-color="#fff3f3"/><stop offset="0.821" stop-color="#fff4f4"/><stop offset="0.827" stop-color="#fff5f5"/><stop offset="0.832" stop-color="#fff6f6"/><stop offset="0.838" stop-color="#fff7f7"/><stop offset="0.844" stop-color="#fff8f8"/><stop offset="0.850" stop-color="#fff9f9"/><stop offset="0.855" stop-color="#fffafa"/><stop offset="0.861" stop-color="#fffbfb"/><stop offset="0.867" stop-color="#fffdfd"/><stop offset="0.873" stop-color="#fffefe"/><stop offset="0.879" stop-color="#ffffff"/><stop offset="0.884" stop-color="#fefeff"/><stop offset="0.890" stop-color="#fdfdff"/><stop offset="0.896" stop-color="#fcfcff"/><stop offset="0.902" stop-color="#fbfbff"/><stop offset="0.908" stop-color="#fbfbff"/><stop offset="0.913" stop-color="#fafaff"/><stop offset="0.919" stop-color="#fafaff"/><stop offset="0.925" stop-color="#f9f9ff"/><stop offset="0.931" stop-color="#f9f9ff"/><stop offset="0.936" stop-color="#f9f9ff"/><stop offset="0.942" stop-color="#f9f9ff"/><stop offset="0.948" stop-color="#f9f9ff"/><stop offset="0.954" stop-color="#fafaff"/><stop offset="0.960" stop-color="#fafaff"/><stop offset="0.965" stop-color="#fafaff"/><stop offset="0.971" stop-color="#fbfbff"/><stop offset="0.977" stop-color="#fbfbff"/><stop offset="0.983" stop-color="#fcfcff"/><stop offset="0.988" stop-color="#fdfdff"/><stop offset="0.994" stop-color="#fdfdff"/><stop offset="1.000" stop-color="#fefeff"/></linearGradient>
<linearGradient id="f2" gradientUnits="userSpaceOnUse" x1="40" x2="213" y1="0" y2="0"><stop offset="0.000" stop-color="#e4e4ff"/><stop offset="0.017" stop-color="#e5e5ff"/><stop offset="0.035" stop-color="#e9e9ff"/><stop offset="0.052" stop-color="#f1f1ff"/><stop offset="0.069" stop-color="#f9f9ff"/><stop offset="0.087" stop-color="#fffdfd"/><stop offset="0.104" stop-color="#fff6f6"/><stop offset="0.121" stop-color="#fff3f3"/><stop offset="0.139" stop-color="#fff1f1"/><stop offset="0.156" stop-color="#fff2f2"/><stop offset="0.173" stop-color="#fff5f5"/><stop offset="0.191" stop-color="#fff9f9"/><stop offset="0.208" stop-color="#fffefe"/><stop offset="0.225" stop-color="#fdfdff"/><stop offset="0.243" stop-color="#fafaff"/><stop offset="0.260" stop-color="#f8f8ff"/><stop offset="0.277" stop-color="#f8f8ff"/><stop offset="0.295" stop-color="#f9f9ff"/><stop offset="0.312" stop-color="#fbfbff"/><stop offset="0.329" stop-color="#fdfdff"/><stop offset="0.347" stop-color="#ffffff"/><stop offset="0.364" stop-color="#fffdfd"/><stop offset="0.382" stop-color="#fffcfc"/><stop offset="0.399" stop-color="#fffcfc"/><stop offset="0.416" stop-color="#fffcfc"/><stop offset="0.434" stop-color="#fffcfc"/><stop offset="0.451" stop-color="#fffdfd"/><stop offset="0.468" stop-color="#fffefe"/><stop offset="0.486" stop-color="#ffffff"/><stop offset="0.503" stop-color="#fefeff"/><stop offset="0.520" stop-color="#fdfdff"/><stop offset="0.538" stop-color="#fdfdff"/><stop offset="0.555" stop-color="#fdfdff"/><stop offset="0.572" stop-color="#fefeff"/><stop offset="0.590" stop-color="#fefeff"/><stop offset="0.607" stop-color="#ffffff"/><stop offset="0.624" stop-color="#ffffff"/><stop offset="0.642" stop-color="#fffefe"/><stop offset="0.659" stop-color="#fffefe"/><stop offset="0.676" stop-color="#fffefe"/><stop offset="0.694" stop-color="#fffefe"/><stop offset="0.711" stop-color="#fffefe"/><stop offset="0.728" stop-color="#ffffff"/><stop offset="0.746" stop-color="#ffffff"/><stop offset="0.763" stop-color="#ffffff"/><stop offset="0.780" stop-color="#ffffff"/><stop offset="0.798" stop-color="#ffffff"/><stop offset="0.815" stop-color="#ffffff"/><stop offset="0.832" stop-color="#ffffff"/><stop offset="0.850" stop-color="#ffffff"/><stop offset="0.867" stop-color="#ffffff"/><stop offset="0.884" stop-color="#ffffff"/><stop offset="0.902" stop-color="#ffffff"/><stop offset="0.919" stop-color="#ffffff"/><stop offset="0.936" stop-color="#ffffff"/><stop offset="0.954" stop-color="#ffffff"/><stop offset="0.971" stop-color="#ffffff"/><stop offset="0.988" stop-color="#ffffff"/></linearGradient>
<rect x="40.00" y="310.20" width="173.00" height="31.30" fill="#f7f8fc"/>
<rect x="40.00" y="311.20" width="173.00" height="29.30" fill="url(#f2)" opacity="0.7"/>
<rect x="40.00" y="323.89" width="173.00" height="3.91" fill="url(#g2)"/>
<line x1="40.00" y1="323.89" x2="213.00" y2="323.89" stroke="#6a6a6a" stroke-width="0.7"/>
<line x1="40.00" y1="327.81" x2="213.00" y2="327.81" stroke="#6a6a6a" stroke-width="0.7"/>
<rect x="40.00" y="310.20" width="173.00" height="31.30" fill="none" stroke="#7a7a7a" stroke-width="1.2"/>
<line x1="37.50" y1="310.20" x2="40.00" y2="310.20" stroke="#7a7a7a" stroke-width="1"/>
<text x="37.00" y="314.40" font-size="12.00" text-anchor="end" >80</text>
<line x1="37.50" y1="325.85" x2="40.00" y2="325.85" stroke="#7a7a7a" stroke-width="1"/>
<text x="37.00" y="330.05" font-size="12.00" text-anchor="end" >0</text>
<line x1="37.50" y1="341.50" x2="40.00" y2="341.50" stroke="#7a7a7a" stroke-width="1"/>
<text x="37.00" y="345.70" font-size="12.00" text-anchor="end" >-80</text>
<text x="46.30" y="306.90" font-size="10.80" text-anchor="start" >h<tspan font-size="7.5" dy="2.2">s</tspan><tspan dy="-2.2"> = 20 nm</tspan></text>
<linearGradient id="g3" gradientUnits="userSpaceOnUse" x1="40" x2="213" y1="0" y2="0"><stop offset="0.000" stop-color="#780000"/><stop offset="0.006" stop-color="#780000"/><stop offset="0.012" stop-color="#780000"/><stop offset="0.017" stop-color="#7e0000"/><stop offset="0.023" stop-color="#a30000"/><stop offset="0.029" stop-color="#ce0000"/><stop offset="0.035" stop-color="#fc0000"/><stop offset="0.040" stop-color="#ff5353"/><stop offset="0.046" stop-color="#ffabab"/><stop offset="0.052" stop-color="#ffffff"/><stop offset="0.058" stop-color="#b2b2ff"/><stop offset="0.064" stop-color="#6d6dff"/><stop offset="0.069" stop-color="#3434ff"/><stop offset="0.075" stop-color="#0606ff"/><stop offset="0.081" stop-color="#0000f2"/><stop offset="0.087" stop-color="#0000e7"/><stop offset="0.092" stop-color="#0000e4"/><stop offset="0.098" stop-color="#0000e6"/><stop offset="0.104" stop-color="#0000ee"/><stop offset="0.110" stop-color="#0000fa"/><stop offset="0.116" stop-color="#1616ff"/><stop offset="0.121" stop-color="#3c3cff"/><stop offset="0.127" stop-color="#6666ff"/><stop offset="0.133" stop-color="#9393ff"/><stop offset="0.139" stop-color="#bfbfff"/><stop offset="0.145" stop-color="#eaeaff"/><stop offset="0.150" stop-color="#ffebeb"/><stop offset="0.156" stop-color="#ffc7c7"/><stop offset="0.162" stop-color="#ffa7a7"/><stop offset="0.168" stop-color="#ff8d8d"/><stop offset="0.173" stop-color="#ff7a7a"/><stop offset="0.179" stop-color="#ff6d6d"/><stop offset="0.185" stop-color="#ff6666"/><stop offset="0.191" stop-color="#ff6565"/><stop offset="0.197" stop-color="#ff6a6a"/><stop offset="0.202" stop-color="#ff7474"/><stop offset="0.208" stop-color="#ff8282"/><stop offset="0.214" stop-color="#ff9494"/><stop offset="0.220" stop-color="#ffa8a8"/><stop offset="0.225" stop-color="#ffbebe"/><stop offset="0.231" stop-color="#ffd4d4"/><stop offset="0.237" stop-color="#ffeaea"/><stop offset="0.243" stop-color="#ffffff"/><stop offset="0.249" stop-color="#ececff"/><stop offset="0.254" stop-color="#dbdbff"/><stop offset="0.260" stop-color="#ccccff"/><stop offset="0.266" stop-color="#c1c1ff"/><stop offset="0.272" stop-color="#b9b9ff"/><stop offset="0.277" stop-color="#b4b4ff"/><stop offset="0.283" stop-color="#b2b2ff"/><stop offset="0.289" stop-color="#b3b3ff"/><stop offset="0.295" stop-color="#b7b7ff"/><stop offset="0.301" stop-color="#bdbdff"/><stop offset="0.306" stop-color="#c5c5ff"/><stop offset="0.312" stop-color="#ceceff"/><stop offset="0.318" stop-color="#d9d9ff"/><stop offset="0.324" stop-color="#e4e4ff"/><stop offset="0.329" stop-color="#efefff"/><stop offset="0.335" stop-color="#fafaff"/><stop offset="0.341" stop-color="#fffafa"/><stop offset="0.347" stop-color="#fff1f1"/><stop offset="0.353" stop-color="#ffe9e9"/><stop offset="0.358" stop-color="#ffe3e3"/><stop offset="0.364" stop-color="#ffdede"/><stop offset="0.370" stop-color="#ffdada"/><stop offset="0.376" stop-color="#ffd9d9"/><stop offset="0.382" stop-color="#ffd9d9"/><stop offset="0.387" stop-color="#ffdada"/><stop offset="0.393" stop-color="#ffdcdc"/><stop offset="0.399" stop-color="#ffe0e0"/><stop offset="0.405" stop-color="#ffe4e4"/><stop offset="0.410" stop-color="#ffe9e9"/><stop offset="0.416" stop-color="#ffefef"/><stop offset="0.422" stop-color="#fff4f4"/><stop offset="0.428" stop-color="#fffafa"/><stop offset="0.434" stop-color="#ffffff"/><stop offset="0.439" stop-color="#fafaff"/><stop offset="0.445" stop-color="#f6f6ff"/><stop offset="0.451" stop-color="#f2f2ff"/><stop offset="0.457" stop-color="#efefff"/><stop offset="0.462" stop-color="#ededff"/><stop offset="0.468" stop-color="#ececff"/><stop offset="0.474" stop-color="#ececff"/><stop offset="0.480" stop-color="#ececff"/><stop offset="0.486" stop-color="#ededff"/><stop offset="0.491" stop-color="#eeeeff"/><stop offset="0.497" stop-color="#f0f0ff"/><stop offset="0.503" stop-color="#f3f3ff"/><stop offset="0.509" stop-color="#f5f5ff"/><stop offset="0.514" stop-color="#f8f8ff"/><stop offset="0.520" stop-color="#fbfbff"/><stop offset="0.526" stop-color="#fefeff"/><stop offset="0.532" stop-color="#fffefe"/><stop offset="0.538" stop-color="#fffbfb"/><stop offset="0.543" stop-color="#fffafa"/><stop offset="0.549" stop-color="#fff8f8"/><stop offset="0.555" stop-color="#fff7f7"/><stop offset="0.561" stop-color="#fff6f6"/><stop offset="0.566" stop-color="#fff5f5"/><stop offset="0.572" stop-color="#fff5f5"/><stop offset="0.578" stop-color="#fff6f6"/><stop offset="0.584" stop-color="#fff6f6"/><stop offset="0.590" stop-color="#fff7f7"/><stop offset="0.595" stop-color="#fff8f8"/><stop offset="0.601" stop-color="#fffafa"/><stop offset="0.607" stop-color="#fffbfb"/><stop offset="0.613" stop-color="#fffcfc"/><stop offset="0.618" stop-color="#fffefe"/><stop offset="0.624" stop-color="#ffffff"/><stop offset="0.630" stop-color="#fefeff"/><stop offset="0.636" stop-color="#fdfdff"/><stop offset="0.642" stop-color="#fcfcff"/><stop offset="0.647" stop-color="#fbfbff"/><stop offset="0.653" stop-color="#fbfbff"/><stop offset="0.659" stop-color="#fafaff"/><stop offset="0.665" stop-color="#fafaff"/><stop offset="0.671" stop-color="#fafaff"/><stop offset="0.676" stop-color="#fafaff"/><stop offset="0.682" stop-color="#fbfbff"/><stop offset="0.688" stop-color="#fbfbff"/><stop offset="0.694" stop-color="#fcfcff"/><stop offset="0.699" stop-color="#fdfdff"/><stop offset="0.705" stop-color="#fdfdff"/><stop offset="0.711" stop-color="#fefeff"/><stop offset="0.717" stop-color="#ffffff"/><stop offset="0.723" stop-color="#ffffff"/><stop offset="0.728" stop-color="#fffefe"/><stop offset="0.734" stop-color="#fffefe"/><stop offset="0.740" stop-color="#fffdfd"/><stop offset="0.746" stop-color="#fffdfd"/><stop offset="0.751" stop-color="#fffdfd"/><stop offset="0.757" stop-color="#fffdfd"/><stop offset="0.763" stop-color="#fffdfd"/><stop offset="0.769" stop-color="#fffdfd"/><stop offset="0.775" stop-color="#fffdfd"/><stop offset="0.780" stop-color="#fffdfd"/><stop offset="0.786" stop-color="#fffdfd"/><stop offset="0.792" stop-color="#fffefe"/><stop offset="0.798" stop-color="#fffefe"/><stop offset="0.803" stop-color="#fffefe"/><stop offset="0.809" stop-color="#ffffff"/><stop offset="0.815" stop-color="#ffffff"/><stop offset="0.821" stop-color="#ffffff"/><stop offset="0.827" stop-color="#fefeff"/><stop offset="0.832" stop-color="#fefeff"/><stop offset="0.838" stop-color="#fefeff"/><stop offset="0.844" stop-color="#fefeff"/><stop offset="0.850" stop-color="#fefeff"/><stop offset="0.855" stop-color="#fefeff"/><stop offset="0.861" stop-color="#fefeff"/><stop offset="0.867" stop-color="#fefeff"/><stop offset="0.873" stop-color="#fefeff"/><stop offset="0.879" stop-color="#fefeff"/><stop offset="0.884" stop-color="#fefeff"/><stop offset="0.890" stop-color="#fefeff"/><stop offset="0.896" stop-color="#ffffff"/><stop offset="0.902" stop-color="#ffffff"/><stop offset="0.908" stop-color="#ffffff"/><stop offset="0.913" stop-color="#ffffff"/><stop offset="0.919" stop-color="#ffffff"/><stop offset="0.925" stop-color="#ffffff"/><stop offset="0.931" stop-color="#ffffff"/><stop offset="0.936" stop-color="#fffefe"/><stop offset="0.942" stop-color="#fffefe"/><stop offset="0.948" stop-color="#fffefe"/><stop offset="0.954" stop-color="#fffefe"/><stop offset="0.960" stop-color="#fffefe"/><stop offset="0.965" stop-color="#fffefe"/><stop offset="0.971" stop-color="#ffffff"/><stop offset="0.977" stop-color="#ffffff"/><stop offset="0.983" stop-color="#ffffff"/><stop offset="0.988" stop-color="#ffffff"/><stop offset="0.994" stop-color="#ffffff"/><stop offset="1.000" stop-color="#ffffff"/></linearGradient>
<linearGradient id="f3" gradientUnits="userSpaceOnUse" x1="40" x2="213" y1="0" y2="0"><stop offset="0.000" stop-color="#e9e9ff"/><stop offset="0.017" stop-color="#eeeeff"/><stop offset="0.035" stop-color="#f6f6ff"/><stop offset="0.052" stop-color="#ffffff"/><stop offset="0.069" stop-color="#fff8f8"/><stop offset="0.087" stop-color="#fff4f4"/><stop offset="0.104" stop-color="#fff5f5"/><stop offset="0.121" stop-color="#fff8f8"/><stop offset="0.139" stop-color="#fffdfd"/><stop offset="0.156" stop-color="#fdfdff"/><stop offset="0.173" stop-color="#fafaff"/><stop offset="0.191" stop-color="#fafaff"/><stop offset="0.208" stop-color="#fbfbff"/><stop offset="0.225" stop-color="#fdfdff"/><stop offset="0.243" stop-color="#ffffff"/><stop offset="0.260" stop-color="#fffdfd"/><stop offset="0.277" stop-color="#fffcfc"/><stop offset="0.295" stop-color="#fffcfc"/><stop offset="0.312" stop-color="#fffdfd"/><stop offset="0.329" stop-color="#fffefe"/><stop offset="0.347" stop-color="#ffffff"/><stop offset="0.364" stop-color="#fefeff"/><stop offset="0.382" stop-color="#fefeff"/><stop offset="0.399" stop-color="#fefeff"/><stop offset="0.416" stop-color="#fefeff"/><stop offset="0.434" stop-color="#ffffff"/><stop offset="0.451" stop-color="#ffffff"/><stop offset="0.468" stop-color="#fffefe"/><stop offset="0.486" stop-color="#fffefe"/><stop offset="0.503" stop-color="#ffffff"/><stop offset="0.520" stop-color="#ffffff"/><stop offset="0.538" stop-color="#ffffff"/><stop offset="0.555" stop-color="#ffffff"/><stop offset="0.572" stop-color="#ffffff"/><stop offset="0.590" stop-color="#ffffff"/><stop offset="0.607" stop-color="#ffffff"/><stop offset="0.624" stop-color="#ffffff"/><stop offset="0.642" stop-color="#ffffff"/><stop offset="0.659" stop-color="#ffffff"/><stop offset="0.676" stop-color="#ffffff"/><stop offset="0.694" stop-color="#ffffff"/><stop offset="0.711" stop-color="#ffffff"/><stop offset="0.728" stop-color="#ffffff"/><stop offset="0.746" stop-color="#ffffff"/><stop offset="0.763" stop-color="#ffffff"/><stop offset="0.780" stop-color="#ffffff"/><stop offset="0.798" stop-color="#ffffff"/><stop offset="0.815" stop-color="#ffffff"/><stop offset="0.832" stop-color="#ffffff"/><stop offset="0.850" stop-color="#ffffff"/><stop offset="0.867" stop-color="#ffffff"/><stop offset="0.884" stop-color="#ffffff"/><stop offset="0.902" stop-color="#ffffff"/><stop offset="0.919" stop-color="#ffffff"/><stop offset="0.936" stop-color="#ffffff"/><stop offset="0.954" stop-color="#ffffff"/><stop offset="0.971" stop-color="#ffffff"/><stop offset="0.988" stop-color="#ffffff"/></linearGradient>
<rect x="40.00" y="353.80" width="173.00" height="31.80" fill="#f7f8fc"/>
<rect x="40.00" y="354.80" width="173.00" height="29.80" fill="url(#f3)" opacity="0.7"/>
<rect x="40.00" y="368.71" width="173.00" height="1.99" fill="url(#g3)"/>
<line x1="40.00" y1="368.71" x2="213.00" y2="368.71" stroke="#6a6a6a" stroke-width="0.7"/>
<line x1="40.00" y1="370.69" x2="213.00" y2="370.69" stroke="#6a6a6a" stroke-width="0.7"/>
<rect x="40.00" y="353.80" width="173.00" height="31.80" fill="none" stroke="#7a7a7a" stroke-width="1.2"/>
<line x1="37.50" y1="353.80" x2="40.00" y2="353.80" stroke="#7a7a7a" stroke-width="1"/>
<text x="37.00" y="358.00" font-size="12.00" text-anchor="end" >80</text>
<line x1="37.50" y1="369.70" x2="40.00" y2="369.70" stroke="#7a7a7a" stroke-width="1"/>
<text x="37.00" y="373.90" font-size="12.00" text-anchor="end" >0</text>
<line x1="37.50" y1="385.60" x2="40.00" y2="385.60" stroke="#7a7a7a" stroke-width="1"/>
<text x="37.00" y="389.80" font-size="12.00" text-anchor="end" >-0</text>
<text x="46.30" y="350.50" font-size="10.80" text-anchor="start" >h<tspan font-size="7.5" dy="2.2">s</tspan><tspan dy="-2.2"> = 10 nm</tspan></text>
<rect x="160.3" y="210.2" width="51.3" height="9.5" fill="url(#cbar)" stroke="#111" stroke-width="1.1"/>
<text x="162.50" y="207.50" font-size="12.00" text-anchor="middle" >-</text>
<text x="181.00" y="207.50" font-size="12.00" text-anchor="start" >E<tspan font-size="8" dy="2.5">z</tspan></text>
<text x="208.60" y="208.00" font-size="12.00" text-anchor="middle" >+</text>
<line x1="40.00" y1="385.60" x2="40.00" y2="388.00" stroke="#7a7a7a" stroke-width="1"/>
<text x="40.00" y="397.00" font-size="12.00" text-anchor="middle" >0</text>
<line x1="74.60" y1="385.60" x2="74.60" y2="388.00" stroke="#7a7a7a" stroke-width="1"/>
<text x="74.60" y="397.00" font-size="12.00" text-anchor="middle" >400</text>
<line x1="109.20" y1="385.60" x2="109.20" y2="388.00" stroke="#7a7a7a" stroke-width="1"/>
<text x="109.20" y="397.00" font-size="12.00" text-anchor="middle" >800</text>
<line x1="143.80" y1="385.60" x2="143.80" y2="388.00" stroke="#7a7a7a" stroke-width="1"/>
<text x="143.80" y="397.00" font-size="12.00" text-anchor="middle" >1200</text>
<line x1="178.40" y1="385.60" x2="178.40" y2="388.00" stroke="#7a7a7a" stroke-width="1"/>
<text x="178.40" y="397.00" font-size="12.00" text-anchor="middle" >1600</text>
<line x1="213.00" y1="385.60" x2="213.00" y2="388.00" stroke="#7a7a7a" stroke-width="1"/>
<text x="213.00" y="397.00" font-size="12.00" text-anchor="middle" >2000</text>
<text x="129.20" y="412.00" font-size="12.00" text-anchor="middle" >x (nm)</text>
<text x="0" y="0" font-size="12" text-anchor="middle" transform="translate(11,306.6) rotate(-90)">z (nm)</text>
<line x1="62" y1="231" x2="62" y2="247" stroke="#111" stroke-width="1"/>
<path d="M62,229.2 L59.8,234 L64.2,234 Z" fill="#000"/><path d="M62,249 L59.8,244.2 L64.2,244.2 Z" fill="#000"/>
<text x="62.80" y="244.00" font-size="12.00" text-anchor="start" >h<tspan font-size="8" dy="2.5">s</tspan></text>
<line x1="112" y1="284.2" x2="141" y2="284.2" stroke="#111" stroke-width="1.2"/>
<path d="M109.3,284.2 L115.3,281.2 L115.3,287.2 Z" fill="#000"/><path d="M143.9,284.2 L137.9,281.2 L137.9,287.2 Z" fill="#000"/>
<text x="116.00" y="296.80" font-size="11.00" text-anchor="start" >λ<tspan font-size="7" dy="2">sp</tspan><tspan dy="-2">/2</tspan></text>
<text x="149.00" y="321.00" font-size="12.00" text-anchor="start" >SiO<tspan font-size="8" dy="2.5">2</tspan></text>
<text x="171.30" y="321.00" font-size="12.00" text-anchor="start" >MXene</text>
<text x="172.60" y="338.70" font-size="12.00" text-anchor="start" >MXene</text>
<line x1="168.7" y1="323.7" x2="183" y2="325.2" stroke="#111" stroke-width="0.9"/>
<path d="M186,325.5 L181.5,323 L181.5,327.6 Z" fill="#111"/>
<line x1="109.5" y1="366" x2="141" y2="366" stroke="#111" stroke-width="2"/>
<path d="M146.3,366 L140,362.8 L140,369.2 Z" fill="#111"/>
<text x="96.30" y="381.00" font-size="12.00" text-anchor="start" >Propagation</text>
<line x1="187.6" y1="372.5" x2="187.6" y2="359" stroke="#111" stroke-width="1.1"/>
<path d="M187.6,356 L185.4,361 L189.8,361 Z" fill="#111"/>
<line x1="189.6" y1="374.5" x2="202" y2="374.5" stroke="#111" stroke-width="1.1"/>
<path d="M205.5,374.5 L200.5,372.3 L200.5,376.7 Z" fill="#111"/>
<circle cx="187.6" cy="374.5" r="2" fill="#fff" stroke="#111" stroke-width="1"/>
<text x="181.80" y="366.00" font-size="12.00" text-anchor="middle" >z</text>
<text x="181.20" y="382.00" font-size="12.00" text-anchor="middle" >y</text>
<text x="208.00" y="382.00" font-size="12.00" text-anchor="middle" >x</text>
<text x="236.50" y="205.30" font-size="14.00" text-anchor="start" >(d)</text>
<clipPath id="cpd"><rect x="273.30" y="211.80" width="175.00" height="174.00"/></clipPath>
<line x1="273.30" y1="294.3" x2="448.30" y2="294.3" stroke="#6a78ff" stroke-width="0.9" stroke-dasharray="2,2"/>
<path d="M273.30,383.40 C302.47,369.32 419.13,312.98 448.30,298.90" fill="none" stroke="#ff8000" stroke-width="1.7" clip-path="url(#cpd)"/>
<path d="M273.30,356.01 C273.80,355.77 275.30,355.06 276.30,354.59 C277.30,354.11 278.30,353.64 279.30,353.17 C280.30,352.70 281.30,352.23 282.30,351.76 C283.30,351.29 284.30,350.83 285.30,350.37 C286.30,349.91 287.30,349.45 288.30,349.00 C289.30,348.55 290.30,348.11 291.30,347.67 C292.30,347.23 293.30,346.80 294.30,346.38 C295.30,345.96 296.30,345.54 297.30,345.14 C298.30,344.73 299.30,344.34 300.30,343.96 C301.30,343.57 302.30,343.20 303.30,342.84 C304.30,342.48 305.30,342.13 306.30,341.79 C307.30,341.45 308.30,341.13 309.30,340.81 C310.30,340.50 311.30,340.20 312.30,339.91 C313.30,339.61 314.30,339.34 315.30,339.07 C316.30,338.80 317.30,338.54 318.30,338.29 C319.30,338.05 320.30,337.81 321.30,337.58 C322.30,337.35 323.30,337.13 324.30,336.92 C325.30,336.70 326.30,336.50 327.30,336.30 C328.30,336.10 329.30,335.90 330.30,335.71 C331.30,335.52 332.30,335.33 333.30,335.15 C334.30,334.96 335.30,334.78 336.30,334.60 C337.30,334.42 338.30,334.25 339.30,334.07 C340.30,333.89 341.30,333.72 342.30,333.54 C343.30,333.36 344.30,333.18 345.30,333.00 C346.30,332.82 347.30,332.64 348.30,332.46 C349.30,332.28 350.30,332.09 351.30,331.91 C352.30,331.72 353.30,331.53 354.30,331.33 C355.30,331.14 356.30,330.94 357.30,330.74 C358.30,330.54 359.30,330.33 360.30,330.12 C361.30,329.91 362.30,329.70 363.30,329.48 C364.30,329.26 365.30,329.03 366.30,328.81 C367.30,328.58 368.30,328.34 369.30,328.10 C370.30,327.86 371.30,327.62 372.30,327.37 C373.30,327.12 374.30,326.87 375.30,326.61 C376.30,326.35 377.30,326.09 378.30,325.82 C379.30,325.55 380.30,325.28 381.30,325.00 C382.30,324.72 383.30,324.44 384.30,324.15 C385.30,323.87 386.30,323.58 387.30,323.28 C388.30,322.99 389.30,322.69 390.30,322.39 C391.30,322.09 392.30,321.78 393.30,321.47 C394.30,321.16 395.30,320.85 396.30,320.54 C397.30,320.22 398.30,319.91 399.30,319.59 C400.30,319.27 401.30,318.95 402.30,318.62 C403.30,318.30 404.30,317.97 405.30,317.65 C406.30,317.32 407.30,316.99 408.30,316.66 C409.30,316.33 410.30,316.00 411.30,315.67 C412.30,315.34 413.30,315.00 414.30,314.67 C415.30,314.34 416.30,314.00 417.30,313.67 C418.30,313.33 419.30,313.00 420.30,312.66 C421.30,312.33 422.30,311.99 423.30,311.65 C424.30,311.32 425.30,310.98 426.30,310.64 C427.30,310.30 428.30,309.96 429.30,309.62 C430.30,309.28 431.30,308.94 432.30,308.60 C433.30,308.26 434.30,307.92 435.30,307.58 C436.30,307.23 437.30,306.89 438.30,306.54 C439.30,306.20 440.30,305.85 441.30,305.51 C442.30,305.16 443.30,304.81 444.30,304.47 C445.30,304.12 446.63,303.66 447.30,303.42 C447.97,303.19 448.13,303.13 448.30,303.08" fill="none" stroke="#1a7a1a" stroke-width="1.7" clip-path="url(#cpd)"/>
<path d="M273.30,334.39 C273.80,334.17 275.30,333.50 276.30,333.06 C277.30,332.61 278.30,332.17 279.30,331.72 C280.30,331.28 281.30,330.84 282.30,330.39 C283.30,329.95 284.30,329.51 285.30,329.06 C286.30,328.62 287.30,328.18 288.30,327.74 C289.30,327.30 290.30,326.86 291.30,326.42 C292.30,325.98 293.30,325.54 294.30,325.11 C295.30,324.67 296.30,324.24 297.30,323.81 C298.30,323.38 299.30,322.95 300.30,322.52 C301.30,322.10 302.30,321.68 303.30,321.26 C304.30,320.85 305.30,320.43 306.30,320.03 C307.30,319.62 308.30,319.22 309.30,318.82 C310.30,318.43 311.30,318.04 312.30,317.65 C313.30,317.27 314.30,316.89 315.30,316.52 C316.30,316.15 317.30,315.79 318.30,315.43 C319.30,315.07 320.30,314.72 321.30,314.38 C322.30,314.03 323.30,313.69 324.30,313.36 C325.30,313.03 326.30,312.70 327.30,312.38 C328.30,312.06 329.30,311.75 330.30,311.44 C331.30,311.13 332.30,310.82 333.30,310.52 C334.30,310.22 335.30,309.93 336.30,309.64 C337.30,309.35 338.30,309.06 339.30,308.78 C340.30,308.50 341.30,308.22 342.30,307.95 C343.30,307.68 344.30,307.41 345.30,307.15 C346.30,306.89 347.30,306.64 348.30,306.39 C349.30,306.14 350.30,305.90 351.30,305.66 C352.30,305.42 353.30,305.19 354.30,304.97 C355.30,304.75 356.30,304.53 357.30,304.31 C358.30,304.10 359.30,303.90 360.30,303.69 C361.30,303.49 362.30,303.30 363.30,303.11 C364.30,302.92 365.30,302.74 366.30,302.56 C367.30,302.38 368.30,302.21 369.30,302.04 C370.30,301.88 371.30,301.71 372.30,301.56 C373.30,301.40 374.30,301.25 375.30,301.10 C376.30,300.95 377.30,300.80 378.30,300.66 C379.30,300.52 380.30,300.39 381.30,300.26 C382.30,300.12 383.30,299.99 384.30,299.87 C385.30,299.74 386.30,299.62 387.30,299.50 C388.30,299.38 389.30,299.26 390.30,299.14 C391.30,299.02 392.30,298.91 393.30,298.80 C394.30,298.68 395.30,298.57 396.30,298.46 C397.30,298.36 398.30,298.25 399.30,298.14 C400.30,298.04 401.30,297.94 402.30,297.84 C403.30,297.73 404.30,297.64 405.30,297.54 C406.30,297.44 407.30,297.35 408.30,297.26 C409.30,297.17 410.30,297.08 411.30,296.99 C412.30,296.90 413.30,296.82 414.30,296.74 C415.30,296.66 416.30,296.58 417.30,296.50 C418.30,296.43 419.30,296.36 420.30,296.29 C421.30,296.22 422.30,296.15 423.30,296.09 C424.30,296.02 425.30,295.96 426.30,295.90 C427.30,295.84 428.30,295.78 429.30,295.73 C430.30,295.67 431.30,295.62 432.30,295.57 C433.30,295.52 434.30,295.47 435.30,295.42 C436.30,295.37 437.30,295.32 438.30,295.28 C439.30,295.23 440.30,295.18 441.30,295.14 C442.30,295.09 443.30,295.05 444.30,295.01 C445.30,294.96 446.63,294.91 447.30,294.88 C447.97,294.85 448.13,294.84 448.30,294.83" fill="none" stroke="#1030ff" stroke-width="1.7" clip-path="url(#cpd)"/>
<path d="M273.30,329.46 C273.80,329.17 275.30,328.29 276.30,327.71 C277.30,327.13 278.30,326.54 279.30,325.96 C280.30,325.38 281.30,324.80 282.30,324.21 C283.30,323.63 284.30,323.05 285.30,322.47 C286.30,321.89 287.30,321.31 288.30,320.73 C289.30,320.15 290.30,319.57 291.30,318.99 C292.30,318.41 293.30,317.83 294.30,317.25 C295.30,316.66 296.30,316.08 297.30,315.50 C298.30,314.92 299.30,314.34 300.30,313.75 C301.30,313.17 302.30,312.59 303.30,312.00 C304.30,311.42 305.30,310.83 306.30,310.25 C307.30,309.66 308.30,309.08 309.30,308.49 C310.30,307.91 311.30,307.32 312.30,306.74 C313.30,306.16 314.30,305.57 315.30,304.99 C316.30,304.41 317.30,303.83 318.30,303.25 C319.30,302.67 320.30,302.10 321.30,301.53 C322.30,300.95 323.30,300.38 324.30,299.82 C325.30,299.25 326.30,298.69 327.30,298.13 C328.30,297.57 329.30,297.02 330.30,296.47 C331.30,295.92 332.30,295.37 333.30,294.83 C334.30,294.29 335.30,293.75 336.30,293.22 C337.30,292.69 338.30,292.16 339.30,291.64 C340.30,291.12 341.30,290.60 342.30,290.09 C343.30,289.58 344.30,289.08 345.30,288.58 C346.30,288.09 347.30,287.59 348.30,287.11 C349.30,286.62 350.30,286.14 351.30,285.67 C352.30,285.20 353.30,284.73 354.30,284.27 C355.30,283.81 356.30,283.35 357.30,282.90 C358.30,282.45 359.30,282.01 360.30,281.57 C361.30,281.13 362.30,280.70 363.30,280.27 C364.30,279.85 365.30,279.42 366.30,279.01 C367.30,278.59 368.30,278.18 369.30,277.77 C370.30,277.37 371.30,276.96 372.30,276.56 C373.30,276.16 374.30,275.77 375.30,275.37 C376.30,274.98 377.30,274.59 378.30,274.20 C379.30,273.81 380.30,273.42 381.30,273.04 C382.30,272.65 383.30,272.26 384.30,271.88 C385.30,271.49 386.30,271.10 387.30,270.72 C388.30,270.33 389.30,269.94 390.30,269.55 C391.30,269.15 392.30,268.76 393.30,268.36 C394.30,267.97 395.30,267.57 396.30,267.17 C397.30,266.77 398.30,266.37 399.30,265.97 C400.30,265.56 401.30,265.16 402.30,264.75 C403.30,264.35 404.30,263.94 405.30,263.54 C406.30,263.13 407.30,262.73 408.30,262.32 C409.30,261.92 410.30,261.51 411.30,261.11 C412.30,260.71 413.30,260.31 414.30,259.92 C415.30,259.52 416.30,259.13 417.30,258.74 C418.30,258.35 419.30,257.96 420.30,257.58 C421.30,257.19 422.30,256.82 423.30,256.44 C424.30,256.07 425.30,255.70 426.30,255.34 C427.30,254.97 428.30,254.62 429.30,254.26 C430.30,253.91 431.30,253.56 432.30,253.22 C433.30,252.87 434.30,252.53 435.30,252.20 C436.30,251.86 437.30,251.53 438.30,251.20 C439.30,250.87 440.30,250.55 441.30,250.23 C442.30,249.91 443.30,249.59 444.30,249.27 C445.30,248.95 446.63,248.53 447.30,248.32 C447.97,248.11 448.13,248.05 448.30,248.00" fill="none" stroke="#ff1010" stroke-width="1.7" clip-path="url(#cpd)"/>
<rect x="273.30" y="211.80" width="175.00" height="174.00" fill="none" stroke="#7a7a7a" stroke-width="1.3"/>
<line x1="270.80" y1="385.80" x2="273.30" y2="385.80" stroke="#7a7a7a" stroke-width="1"/>
<text x="266.30" y="390.10" font-size="12.00" text-anchor="end" >10</text>
<text x="266.30" y="386.10" font-size="7.50" text-anchor="start" >0</text>
<line x1="273.30" y1="377.07" x2="274.90" y2="377.07" stroke="#7a7a7a" stroke-width="0.8"/>
<line x1="273.30" y1="371.96" x2="274.90" y2="371.96" stroke="#7a7a7a" stroke-width="0.8"/>
<line x1="273.30" y1="368.34" x2="274.90" y2="368.34" stroke="#7a7a7a" stroke-width="0.8"/>
<line x1="273.30" y1="365.53" x2="274.90" y2="365.53" stroke="#7a7a7a" stroke-width="0.8"/>
<line x1="273.30" y1="363.23" x2="274.90" y2="363.23" stroke="#7a7a7a" stroke-width="0.8"/>
<line x1="273.30" y1="361.29" x2="274.90" y2="361.29" stroke="#7a7a7a" stroke-width="0.8"/>
<line x1="273.30" y1="359.61" x2="274.90" y2="359.61" stroke="#7a7a7a" stroke-width="0.8"/>
<line x1="273.30" y1="358.13" x2="274.90" y2="358.13" stroke="#7a7a7a" stroke-width="0.8"/>
<line x1="273.30" y1="348.07" x2="274.90" y2="348.07" stroke="#7a7a7a" stroke-width="0.8"/>
<line x1="273.30" y1="342.96" x2="274.90" y2="342.96" stroke="#7a7a7a" stroke-width="0.8"/>
<line x1="273.30" y1="339.34" x2="274.90" y2="339.34" stroke="#7a7a7a" stroke-width="0.8"/>
<line x1="273.30" y1="336.53" x2="274.90" y2="336.53" stroke="#7a7a7a" stroke-width="0.8"/>
<line x1="273.30" y1="334.23" x2="274.90" y2="334.23" stroke="#7a7a7a" stroke-width="0.8"/>
<line x1="273.30" y1="332.29" x2="274.90" y2="332.29" stroke="#7a7a7a" stroke-width="0.8"/>
<line x1="273.30" y1="330.61" x2="274.90" y2="330.61" stroke="#7a7a7a" stroke-width="0.8"/>
<line x1="273.30" y1="329.13" x2="274.90" y2="329.13" stroke="#7a7a7a" stroke-width="0.8"/>
<line x1="270.80" y1="327.80" x2="273.30" y2="327.80" stroke="#7a7a7a" stroke-width="1"/>
<text x="266.30" y="332.10" font-size="12.00" text-anchor="end" >10</text>
<text x="266.30" y="328.10" font-size="7.50" text-anchor="start" >2</text>
<line x1="273.30" y1="319.07" x2="274.90" y2="319.07" stroke="#7a7a7a" stroke-width="0.8"/>
<line x1="273.30" y1="313.96" x2="274.90" y2="313.96" stroke="#7a7a7a" stroke-width="0.8"/>
<line x1="273.30" y1="310.34" x2="274.90" y2="310.34" stroke="#7a7a7a" stroke-width="0.8"/>
<line x1="273.30" y1="307.53" x2="274.90" y2="307.53" stroke="#7a7a7a" stroke-width="0.8"/>
<line x1="273.30" y1="305.23" x2="274.90" y2="305.23" stroke="#7a7a7a" stroke-width="0.8"/>
<line x1="273.30" y1="303.29" x2="274.90" y2="303.29" stroke="#7a7a7a" stroke-width="0.8"/>
<line x1="273.30" y1="301.61" x2="274.90" y2="301.61" stroke="#7a7a7a" stroke-width="0.8"/>
<line x1="273.30" y1="300.13" x2="274.90" y2="300.13" stroke="#7a7a7a" stroke-width="0.8"/>
<line x1="273.30" y1="290.07" x2="274.90" y2="290.07" stroke="#7a7a7a" stroke-width="0.8"/>
<line x1="273.30" y1="284.96" x2="274.90" y2="284.96" stroke="#7a7a7a" stroke-width="0.8"/>
<line x1="273.30" y1="281.34" x2="274.90" y2="281.34" stroke="#7a7a7a" stroke-width="0.8"/>
<line x1="273.30" y1="278.53" x2="274.90" y2="278.53" stroke="#7a7a7a" stroke-width="0.8"/>
<line x1="273.30" y1="276.23" x2="274.90" y2="276.23" stroke="#7a7a7a" stroke-width="0.8"/>
<line x1="273.30" y1="274.29" x2="274.90" y2="274.29" stroke="#7a7a7a" stroke-width="0.8"/>
<line x1="273.30" y1="272.61" x2="274.90" y2="272.61" stroke="#7a7a7a" stroke-width="0.8"/>
<line x1="273.30" y1="271.13" x2="274.90" y2="271.13" stroke="#7a7a7a" stroke-width="0.8"/>
<line x1="270.80" y1="269.80" x2="273.30" y2="269.80" stroke="#7a7a7a" stroke-width="1"/>
<text x="266.30" y="274.10" font-size="12.00" text-anchor="end" >10</text>
<text x="266.30" y="270.10" font-size="7.50" text-anchor="start" >4</text>
<line x1="273.30" y1="261.07" x2="274.90" y2="261.07" stroke="#7a7a7a" stroke-width="0.8"/>
<line x1="273.30" y1="255.96" x2="274.90" y2="255.96" stroke="#7a7a7a" stroke-width="0.8"/>
<line x1="273.30" y1="252.34" x2="274.90" y2="252.34" stroke="#7a7a7a" stroke-width="0.8"/>
<line x1="273.30" y1="249.53" x2="274.90" y2="249.53" stroke="#7a7a7a" stroke-width="0.8"/>
<line x1="273.30" y1="247.23" x2="274.90" y2="247.23" stroke="#7a7a7a" stroke-width="0.8"/>
<line x1="273.30" y1="245.29" x2="274.90" y2="245.29" stroke="#7a7a7a" stroke-width="0.8"/>
<line x1="273.30" y1="243.61" x2="274.90" y2="243.61" stroke="#7a7a7a" stroke-width="0.8"/>
<line x1="273.30" y1="242.13" x2="274.90" y2="242.13" stroke="#7a7a7a" stroke-width="0.8"/>
<line x1="273.30" y1="232.07" x2="274.90" y2="232.07" stroke="#7a7a7a" stroke-width="0.8"/>
<line x1="273.30" y1="226.96" x2="274.90" y2="226.96" stroke="#7a7a7a" stroke-width="0.8"/>
<line x1="273.30" y1="223.34" x2="274.90" y2="223.34" stroke="#7a7a7a" stroke-width="0.8"/>
<line x1="273.30" y1="220.53" x2="274.90" y2="220.53" stroke="#7a7a7a" stroke-width="0.8"/>
<line x1="273.30" y1="218.23" x2="274.90" y2="218.23" stroke="#7a7a7a" stroke-width="0.8"/>
<line x1="273.30" y1="216.29" x2="274.90" y2="216.29" stroke="#7a7a7a" stroke-width="0.8"/>
<line x1="273.30" y1="214.61" x2="274.90" y2="214.61" stroke="#7a7a7a" stroke-width="0.8"/>
<line x1="273.30" y1="213.13" x2="274.90" y2="213.13" stroke="#7a7a7a" stroke-width="0.8"/>
<line x1="270.80" y1="211.80" x2="273.30" y2="211.80" stroke="#7a7a7a" stroke-width="1"/>
<text x="266.30" y="216.10" font-size="12.00" text-anchor="end" >10</text>
<text x="266.30" y="212.10" font-size="7.50" text-anchor="start" >6</text>
<line x1="273.30" y1="385.80" x2="273.30" y2="388.30" stroke="#7a7a7a" stroke-width="1"/>
<text x="273.30" y="398.00" font-size="12.00" text-anchor="middle" >1</text>
<line x1="290.86" y1="385.80" x2="290.86" y2="384.20" stroke="#7a7a7a" stroke-width="0.8"/>
<line x1="301.13" y1="385.80" x2="301.13" y2="384.20" stroke="#7a7a7a" stroke-width="0.8"/>
<line x1="308.42" y1="385.80" x2="308.42" y2="384.20" stroke="#7a7a7a" stroke-width="0.8"/>
<line x1="314.07" y1="385.80" x2="314.07" y2="384.20" stroke="#7a7a7a" stroke-width="0.8"/>
<line x1="318.69" y1="385.80" x2="318.69" y2="384.20" stroke="#7a7a7a" stroke-width="0.8"/>
<line x1="322.60" y1="385.80" x2="322.60" y2="384.20" stroke="#7a7a7a" stroke-width="0.8"/>
<line x1="325.98" y1="385.80" x2="325.98" y2="384.20" stroke="#7a7a7a" stroke-width="0.8"/>
<line x1="328.96" y1="385.80" x2="328.96" y2="384.20" stroke="#7a7a7a" stroke-width="0.8"/>
<line x1="331.63" y1="385.80" x2="331.63" y2="388.30" stroke="#7a7a7a" stroke-width="1"/>
<text x="331.63" y="398.00" font-size="12.00" text-anchor="middle" >10</text>
<line x1="349.19" y1="385.80" x2="349.19" y2="384.20" stroke="#7a7a7a" stroke-width="0.8"/>
<line x1="359.47" y1="385.80" x2="359.47" y2="384.20" stroke="#7a7a7a" stroke-width="0.8"/>
<line x1="366.75" y1="385.80" x2="366.75" y2="384.20" stroke="#7a7a7a" stroke-width="0.8"/>
<line x1="372.41" y1="385.80" x2="372.41" y2="384.20" stroke="#7a7a7a" stroke-width="0.8"/>
<line x1="377.03" y1="385.80" x2="377.03" y2="384.20" stroke="#7a7a7a" stroke-width="0.8"/>
<line x1="380.93" y1="385.80" x2="380.93" y2="384.20" stroke="#7a7a7a" stroke-width="0.8"/>
<line x1="384.31" y1="385.80" x2="384.31" y2="384.20" stroke="#7a7a7a" stroke-width="0.8"/>
<line x1="387.30" y1="385.80" x2="387.30" y2="384.20" stroke="#7a7a7a" stroke-width="0.8"/>
<line x1="389.97" y1="385.80" x2="389.97" y2="388.30" stroke="#7a7a7a" stroke-width="1"/>
<text x="389.97" y="398.00" font-size="12.00" text-anchor="middle" >100</text>
<line x1="407.53" y1="385.80" x2="407.53" y2="384.20" stroke="#7a7a7a" stroke-width="0.8"/>
<line x1="417.80" y1="385.80" x2="417.80" y2="384.20" stroke="#7a7a7a" stroke-width="0.8"/>
<line x1="425.09" y1="385.80" x2="425.09" y2="384.20" stroke="#7a7a7a" stroke-width="0.8"/>
<line x1="430.74" y1="385.80" x2="430.74" y2="384.20" stroke="#7a7a7a" stroke-width="0.8"/>
<line x1="435.36" y1="385.80" x2="435.36" y2="384.20" stroke="#7a7a7a" stroke-width="0.8"/>
<line x1="439.26" y1="385.80" x2="439.26" y2="384.20" stroke="#7a7a7a" stroke-width="0.8"/>
<line x1="442.65" y1="385.80" x2="442.65" y2="384.20" stroke="#7a7a7a" stroke-width="0.8"/>
<line x1="445.63" y1="385.80" x2="445.63" y2="384.20" stroke="#7a7a7a" stroke-width="0.8"/>
<line x1="448.30" y1="385.80" x2="448.30" y2="388.30" stroke="#7a7a7a" stroke-width="1"/>
<text x="448.30" y="398.00" font-size="12.00" text-anchor="middle" >1000</text>
<text x="342.50" y="411.50" font-size="12.00" text-anchor="start" >h<tspan font-size="8" dy="2.5">s</tspan><tspan dy="-2.5"> (nm)</tspan></text>
<text x="0" y="0" font-size="12" text-anchor="middle" transform="translate(247.6,304.3) rotate(-90)">λ<tspan font-size="8" dy="2.5">sp</tspan><tspan dy="-2.5">, L</tspan><tspan font-size="8" dy="2.5" font-style="italic">e</tspan><tspan dy="-2.5">, L</tspan><tspan font-size="8" dy="2.5" font-style="italic">f</tspan><tspan dy="-2.5">, D (nm)</tspan></text>
<line x1="288.2" y1="232.00" x2="309" y2="232.00" stroke="#1030ff" stroke-width="1.6"/>
<text x="312.30" y="236.50" font-size="11.80" text-anchor="start" >λ<tspan font-size="8.5" dy="2.5">sp</tspan></text>
<line x1="288.2" y1="242.70" x2="309" y2="242.70" stroke="#1a7a1a" stroke-width="1.6"/>
<text x="312.30" y="247.20" font-size="11.80" text-anchor="start" >L<tspan font-size="8.5" dy="2.5" font-style="italic">e</tspan></text>
<line x1="288.2" y1="253.40" x2="309" y2="253.40" stroke="#ff8000" stroke-width="1.6"/>
<text x="312.30" y="257.90" font-size="11.80" text-anchor="start" >L<tspan font-size="8.5" dy="2.5" font-style="italic">f</tspan></text>
<line x1="288.2" y1="264.10" x2="309" y2="264.10" stroke="#ff1010" stroke-width="1.6"/>
<text x="312.30" y="268.60" font-size="11.80" text-anchor="start" >D</text>
<text x="287.60" y="283.60" font-size="14.00" text-anchor="start" >λ<tspan font-size="7.5" dy="2">SiO</tspan><tspan font-size="5.5" dy="1.5">2</tspan></text>
<line x1="286.6" y1="283.2" x2="280" y2="289.8" stroke="#000" stroke-width="1.7"/>
<path d="M276.6,293.4 L277.6,286.6 L283.2,292.2 Z" fill="#000"/>
</svg></body></html>
